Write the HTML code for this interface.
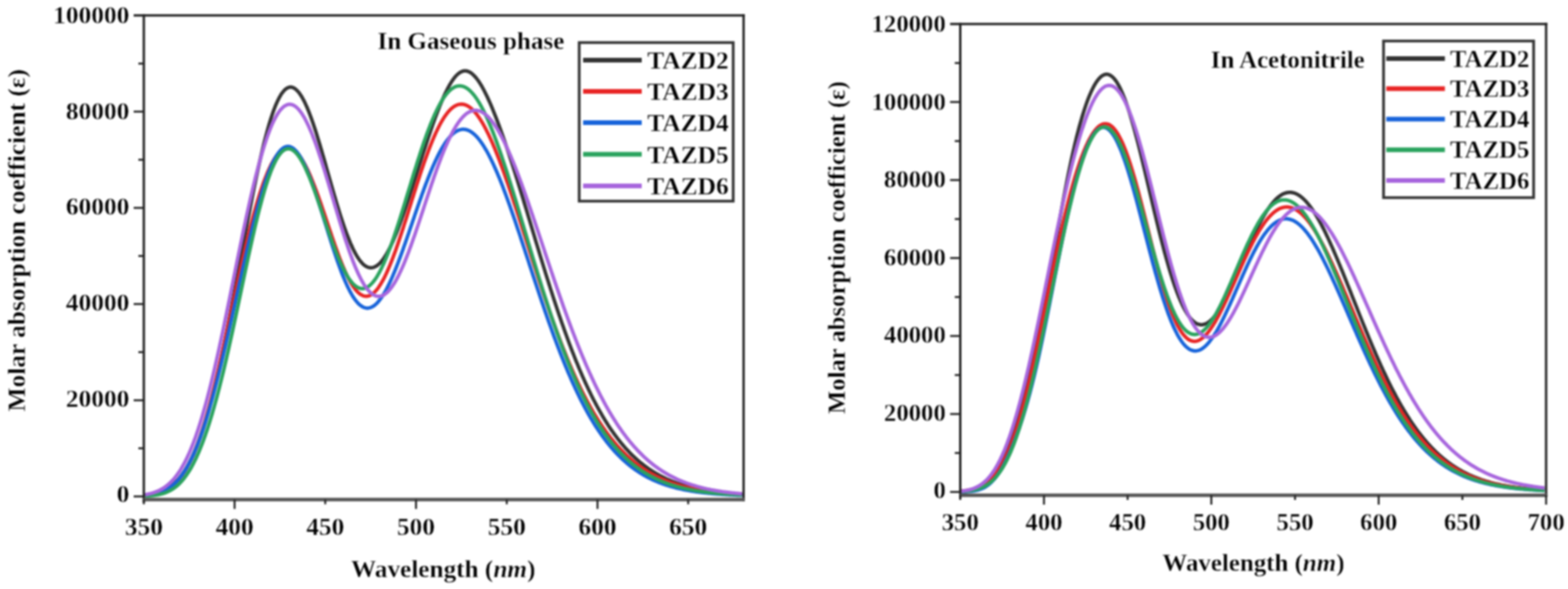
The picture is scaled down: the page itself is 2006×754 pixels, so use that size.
<!DOCTYPE html><html><head><meta charset="utf-8"><title>Molar absorption spectra</title><style>html,body{margin:0;padding:0;background:#fff;width:2006px;height:754px;overflow:hidden}svg{display:block;filter:blur(0.8px)}text{font-family:'Liberation Serif','Times New Roman',serif;font-weight:bold;stroke:#fff;stroke-width:0.4px}</style></head><body>
<svg width="2006" height="754" viewBox="0 0 2006 754">
<rect width="2006" height="754" fill="#fff"/>
<g>
<clipPath id="clipL"><rect x="184.0" y="19.8" width="767.3" height="619.7"/></clipPath>
<g clip-path="url(#clipL)" fill="none" stroke-width="4.5" stroke-linejoin="round">
<path d="M185.5 634.1 L186.5 634.0 L187.5 633.9 L188.5 633.8 L189.5 633.6 L190.5 633.5 L191.5 633.3 L192.5 633.2 L193.5 633.0 L194.5 632.8 L195.5 632.6 L196.5 632.4 L197.5 632.1 L198.5 631.9 L199.5 631.6 L200.5 631.3 L201.5 631.0 L202.5 630.7 L203.5 630.4 L204.5 630.0 L205.5 629.7 L206.5 629.3 L207.5 628.9 L208.5 628.4 L209.5 628.0 L210.5 627.5 L211.5 627.0 L212.5 626.4 L213.5 625.9 L214.5 625.3 L215.5 624.6 L216.5 624.0 L217.5 623.3 L218.5 622.5 L219.5 621.8 L220.5 621.0 L221.5 620.2 L222.5 619.3 L223.5 618.4 L224.5 617.4 L225.5 616.4 L226.5 615.4 L227.5 614.3 L228.5 613.2 L229.5 612.0 L230.5 610.8 L231.5 609.5 L232.5 608.2 L233.5 606.8 L234.5 605.4 L235.5 604.0 L236.5 602.4 L237.5 600.8 L238.5 599.2 L239.5 597.5 L240.5 595.7 L241.5 593.9 L242.5 592.1 L243.5 590.1 L244.5 588.1 L245.5 586.1 L246.5 583.9 L247.5 581.7 L248.5 579.5 L249.5 577.1 L250.5 574.8 L251.5 572.3 L252.5 569.8 L253.5 567.2 L254.5 564.5 L255.5 561.8 L256.5 558.9 L257.5 556.1 L258.5 553.1 L259.5 550.1 L260.5 547.0 L261.5 543.8 L262.5 540.6 L263.5 537.3 L264.5 533.9 L265.5 530.4 L266.5 526.9 L267.5 523.3 L268.5 519.7 L269.5 515.9 L270.5 512.1 L271.5 508.2 L272.5 504.3 L273.5 500.3 L274.5 496.2 L275.5 492.1 L276.5 487.9 L277.5 483.6 L278.5 479.2 L279.5 474.8 L280.5 470.4 L281.5 465.8 L282.5 461.3 L283.5 456.6 L284.5 451.9 L285.5 447.2 L286.5 442.4 L287.5 437.5 L288.5 432.6 L289.5 427.7 L290.5 422.7 L291.5 417.6 L292.5 412.6 L293.5 407.5 L294.5 402.3 L295.5 397.1 L296.5 391.9 L297.5 386.6 L298.5 381.4 L299.5 376.1 L300.5 370.7 L301.5 365.4 L302.5 360.0 L303.5 354.7 L304.5 349.3 L305.5 343.9 L306.5 338.5 L307.5 333.1 L308.5 327.6 L309.5 322.2 L310.5 316.8 L311.5 311.4 L312.5 306.1 L313.5 300.7 L314.5 295.4 L315.5 290.0 L316.5 284.7 L317.5 279.4 L318.5 274.2 L319.5 269.0 L320.5 263.8 L321.5 258.7 L322.5 253.6 L323.5 248.5 L324.5 243.5 L325.5 238.6 L326.5 233.7 L327.5 228.9 L328.5 224.1 L329.5 219.4 L330.5 214.7 L331.5 210.2 L332.5 205.7 L333.5 201.3 L334.5 196.9 L335.5 192.7 L336.5 188.5 L337.5 184.4 L338.5 180.4 L339.5 176.5 L340.5 172.7 L341.5 169.0 L342.5 165.4 L343.5 161.9 L344.5 158.5 L345.5 155.2 L346.5 152.0 L347.5 148.9 L348.5 145.9 L349.5 143.1 L350.5 140.3 L351.5 137.7 L352.5 135.2 L353.5 132.8 L354.5 130.6 L355.5 128.4 L356.5 126.4 L357.5 124.5 L358.5 122.8 L359.5 121.1 L360.5 119.6 L361.5 118.3 L362.5 117.0 L363.5 115.9 L364.5 114.9 L365.5 114.0 L366.5 113.3 L367.5 112.7 L368.5 112.2 L369.5 111.9 L370.5 111.6 L371.5 111.5 L372.5 111.6 L373.5 111.7 L374.5 112.0 L375.5 112.4 L376.5 113.0 L377.5 113.6 L378.5 114.4 L379.5 115.3 L380.5 116.3 L381.5 117.4 L382.5 118.6 L383.5 120.0 L384.5 121.5 L385.5 123.0 L386.5 124.7 L387.5 126.5 L388.5 128.3 L389.5 130.3 L390.5 132.4 L391.5 134.6 L392.5 136.8 L393.5 139.1 L394.5 141.6 L395.5 144.1 L396.5 146.7 L397.5 149.4 L398.5 152.1 L399.5 154.9 L400.5 157.8 L401.5 160.7 L402.5 163.7 L403.5 166.8 L404.5 169.9 L405.5 173.1 L406.5 176.3 L407.5 179.6 L408.5 182.9 L409.5 186.2 L410.5 189.6 L411.5 193.0 L412.5 196.5 L413.5 199.9 L414.5 203.4 L415.5 206.9 L416.5 210.4 L417.5 214.0 L418.5 217.5 L419.5 221.0 L420.5 224.6 L421.5 228.1 L422.5 231.6 L423.5 235.2 L424.5 238.7 L425.5 242.2 L426.5 245.6 L427.5 249.1 L428.5 252.5 L429.5 255.9 L430.5 259.3 L431.5 262.6 L432.5 265.9 L433.5 269.2 L434.5 272.4 L435.5 275.6 L436.5 278.7 L437.5 281.8 L438.5 284.8 L439.5 287.7 L440.5 290.7 L441.5 293.5 L442.5 296.3 L443.5 299.0 L444.5 301.7 L445.5 304.2 L446.5 306.7 L447.5 309.2 L448.5 311.6 L449.5 313.8 L450.5 316.0 L451.5 318.2 L452.5 320.2 L453.5 322.2 L454.5 324.1 L455.5 325.9 L456.5 327.6 L457.5 329.2 L458.5 330.8 L459.5 332.2 L460.5 333.6 L461.5 334.8 L462.5 336.0 L463.5 337.1 L464.5 338.1 L465.5 339.0 L466.5 339.8 L467.5 340.5 L468.5 341.1 L469.5 341.6 L470.5 342.0 L471.5 342.4 L472.5 342.6 L473.5 342.7 L474.5 342.8 L475.5 342.7 L476.5 342.6 L477.5 342.4 L478.5 342.1 L479.5 341.6 L480.5 341.1 L481.5 340.5 L482.5 339.9 L483.5 339.1 L484.5 338.2 L485.5 337.3 L486.5 336.3 L487.5 335.1 L488.5 333.9 L489.5 332.7 L490.5 331.3 L491.5 329.9 L492.5 328.3 L493.5 326.7 L494.5 325.1 L495.5 323.3 L496.5 321.5 L497.5 319.6 L498.5 317.7 L499.5 315.7 L500.5 313.6 L501.5 311.4 L502.5 309.2 L503.5 306.9 L504.5 304.6 L505.5 302.2 L506.5 299.8 L507.5 297.3 L508.5 294.8 L509.5 292.2 L510.5 289.5 L511.5 286.9 L512.5 284.1 L513.5 281.4 L514.5 278.6 L515.5 275.7 L516.5 272.9 L517.5 270.0 L518.5 267.0 L519.5 264.1 L520.5 261.1 L521.5 258.1 L522.5 255.1 L523.5 252.0 L524.5 248.9 L525.5 245.9 L526.5 242.8 L527.5 239.7 L528.5 236.5 L529.5 233.4 L530.5 230.3 L531.5 227.1 L532.5 224.0 L533.5 220.8 L534.5 217.7 L535.5 214.6 L536.5 211.4 L537.5 208.3 L538.5 205.2 L539.5 202.1 L540.5 198.9 L541.5 195.9 L542.5 192.8 L543.5 189.7 L544.5 186.7 L545.5 183.6 L546.5 180.6 L547.5 177.6 L548.5 174.6 L549.5 171.7 L550.5 168.7 L551.5 165.8 L552.5 163.0 L553.5 160.1 L554.5 157.3 L555.5 154.5 L556.5 151.8 L557.5 149.0 L558.5 146.4 L559.5 143.7 L560.5 141.1 L561.5 138.6 L562.5 136.0 L563.5 133.6 L564.5 131.1 L565.5 128.8 L566.5 126.4 L567.5 124.2 L568.5 122.0 L569.5 119.8 L570.5 117.7 L571.5 115.7 L572.5 113.7 L573.5 111.8 L574.5 110.0 L575.5 108.2 L576.5 106.6 L577.5 104.9 L578.5 103.4 L579.5 102.0 L580.5 100.6 L581.5 99.3 L582.5 98.1 L583.5 97.0 L584.5 96.0 L585.5 95.0 L586.5 94.2 L587.5 93.4 L588.5 92.8 L589.5 92.2 L590.5 91.7 L591.5 91.3 L592.5 91.0 L593.5 90.8 L594.5 90.8 L595.5 90.7 L596.5 90.8 L597.5 91.0 L598.5 91.3 L599.5 91.7 L600.5 92.1 L601.5 92.7 L602.5 93.3 L603.5 94.1 L604.5 94.9 L605.5 95.8 L606.5 96.8 L607.5 97.8 L608.5 99.0 L609.5 100.2 L610.5 101.5 L611.5 102.8 L612.5 104.3 L613.5 105.8 L614.5 107.4 L615.5 109.0 L616.5 110.7 L617.5 112.5 L618.5 114.3 L619.5 116.2 L620.5 118.2 L621.5 120.2 L622.5 122.2 L623.5 124.3 L624.5 126.5 L625.5 128.7 L626.5 130.9 L627.5 133.2 L628.5 135.5 L629.5 137.9 L630.5 140.3 L631.5 142.8 L632.5 145.3 L633.5 147.8 L634.5 150.3 L635.5 152.9 L636.5 155.6 L637.5 158.2 L638.5 160.9 L639.5 163.7 L640.5 166.4 L641.5 169.2 L642.5 172.0 L643.5 174.8 L644.5 177.7 L645.5 180.6 L646.5 183.5 L647.5 186.4 L648.5 189.4 L649.5 192.4 L650.5 195.4 L651.5 198.4 L652.5 201.5 L653.5 204.5 L654.5 207.6 L655.5 210.7 L656.5 213.9 L657.5 217.0 L658.5 220.2 L659.5 223.3 L660.5 226.5 L661.5 229.7 L662.5 232.9 L663.5 236.1 L664.5 239.4 L665.5 242.6 L666.5 245.9 L667.5 249.2 L668.5 252.4 L669.5 255.7 L670.5 259.0 L671.5 262.3 L672.5 265.6 L673.5 268.9 L674.5 272.2 L675.5 275.6 L676.5 278.9 L677.5 282.2 L678.5 285.5 L679.5 288.9 L680.5 292.2 L681.5 295.5 L682.5 298.8 L683.5 302.1 L684.5 305.5 L685.5 308.8 L686.5 312.1 L687.5 315.4 L688.5 318.7 L689.5 322.0 L690.5 325.3 L691.5 328.6 L692.5 331.8 L693.5 335.1 L694.5 338.4 L695.5 341.6 L696.5 344.8 L697.5 348.1 L698.5 351.3 L699.5 354.5 L700.5 357.7 L701.5 360.8 L702.5 364.0 L703.5 367.1 L704.5 370.3 L705.5 373.4 L706.5 376.5 L707.5 379.6 L708.5 382.7 L709.5 385.7 L710.5 388.8 L711.5 391.8 L712.5 394.8 L713.5 397.8 L714.5 400.7 L715.5 403.7 L716.5 406.6 L717.5 409.5 L718.5 412.4 L719.5 415.3 L720.5 418.1 L721.5 421.0 L722.5 423.8 L723.5 426.6 L724.5 429.3 L725.5 432.1 L726.5 434.8 L727.5 437.5 L728.5 440.2 L729.5 442.8 L730.5 445.5 L731.5 448.1 L732.5 450.7 L733.5 453.2 L734.5 455.8 L735.5 458.3 L736.5 460.8 L737.5 463.3 L738.5 465.7 L739.5 468.2 L740.5 470.6 L741.5 473.0 L742.5 475.3 L743.5 477.7 L744.5 480.0 L745.5 482.3 L746.5 484.5 L747.5 486.8 L748.5 489.0 L749.5 491.2 L750.5 493.4 L751.5 495.5 L752.5 497.6 L753.5 499.7 L754.5 501.8 L755.5 503.9 L756.5 505.9 L757.5 507.9 L758.5 509.9 L759.5 511.9 L760.5 513.8 L761.5 515.7 L762.5 517.6 L763.5 519.5 L764.5 521.3 L765.5 523.2 L766.5 525.0 L767.5 526.7 L768.5 528.5 L769.5 530.2 L770.5 532.0 L771.5 533.7 L772.5 535.3 L773.5 537.0 L774.5 538.6 L775.5 540.2 L776.5 541.8 L777.5 543.4 L778.5 544.9 L779.5 546.4 L780.5 547.9 L781.5 549.4 L782.5 550.9 L783.5 552.3 L784.5 553.7 L785.5 555.1 L786.5 556.5 L787.5 557.9 L788.5 559.2 L789.5 560.5 L790.5 561.9 L791.5 563.1 L792.5 564.4 L793.5 565.7 L794.5 566.9 L795.5 568.1 L796.5 569.3 L797.5 570.5 L798.5 571.6 L799.5 572.8 L800.5 573.9 L801.5 575.0 L802.5 576.1 L803.5 577.2 L804.5 578.2 L805.5 579.3 L806.5 580.3 L807.5 581.3 L808.5 582.3 L809.5 583.3 L810.5 584.2 L811.5 585.2 L812.5 586.1 L813.5 587.0 L814.5 587.9 L815.5 588.8 L816.5 589.7 L817.5 590.6 L818.5 591.4 L819.5 592.2 L820.5 593.0 L821.5 593.8 L822.5 594.6 L823.5 595.4 L824.5 596.2 L825.5 596.9 L826.5 597.7 L827.5 598.4 L828.5 599.1 L829.5 599.8 L830.5 600.5 L831.5 601.2 L832.5 601.8 L833.5 602.5 L834.5 603.1 L835.5 603.8 L836.5 604.4 L837.5 605.0 L838.5 605.6 L839.5 606.2 L840.5 606.8 L841.5 607.3 L842.5 607.9 L843.5 608.4 L844.5 609.0 L845.5 609.5 L846.5 610.0 L847.5 610.5 L848.5 611.0 L849.5 611.5 L850.5 612.0 L851.5 612.5 L852.5 613.0 L853.5 613.4 L854.5 613.9 L855.5 614.3 L856.5 614.7 L857.5 615.2 L858.5 615.6 L859.5 616.0 L860.5 616.4 L861.5 616.8 L862.5 617.2 L863.5 617.5 L864.5 617.9 L865.5 618.3 L866.5 618.6 L867.5 619.0 L868.5 619.3 L869.5 619.7 L870.5 620.0 L871.5 620.3 L872.5 620.6 L873.5 620.9 L874.5 621.2 L875.5 621.5 L876.5 621.8 L877.5 622.1 L878.5 622.4 L879.5 622.7 L880.5 623.0 L881.5 623.2 L882.5 623.5 L883.5 623.7 L884.5 624.0 L885.5 624.2 L886.5 624.5 L887.5 624.7 L888.5 624.9 L889.5 625.2 L890.5 625.4 L891.5 625.6 L892.5 625.8 L893.5 626.0 L894.5 626.2 L895.5 626.4 L896.5 626.6 L897.5 626.8 L898.5 627.0 L899.5 627.2 L900.5 627.4 L901.5 627.6 L902.5 627.7 L903.5 627.9 L904.5 628.1 L905.5 628.2 L906.5 628.4 L907.5 628.6 L908.5 628.7 L909.5 628.9 L910.5 629.0 L911.5 629.1 L912.5 629.3 L913.5 629.4 L914.5 629.6 L915.5 629.7 L916.5 629.8 L917.5 629.9 L918.5 630.1 L919.5 630.2 L920.5 630.3 L921.5 630.4 L922.5 630.5 L923.5 630.7 L924.5 630.8 L925.5 630.9 L926.5 631.0 L927.5 631.1 L928.5 631.2 L929.5 631.3 L930.5 631.4 L931.5 631.5 L932.5 631.6 L933.5 631.6 L934.5 631.7 L935.5 631.8 L936.5 631.9 L937.5 632.0 L938.5 632.1 L939.5 632.1 L940.5 632.2 L941.5 632.3 L942.5 632.4 L943.5 632.4 L944.5 632.5 L945.5 632.6 L946.5 632.6 L947.5 632.7 L948.5 632.8 L949.5 632.8" stroke="#333333"/>
<path d="M185.5 634.4 L186.5 634.3 L187.5 634.2 L188.5 634.1 L189.5 634.0 L190.5 633.8 L191.5 633.7 L192.5 633.6 L193.5 633.4 L194.5 633.2 L195.5 633.0 L196.5 632.8 L197.5 632.6 L198.5 632.4 L199.5 632.1 L200.5 631.9 L201.5 631.6 L202.5 631.3 L203.5 631.0 L204.5 630.7 L205.5 630.3 L206.5 629.9 L207.5 629.5 L208.5 629.1 L209.5 628.7 L210.5 628.2 L211.5 627.7 L212.5 627.2 L213.5 626.6 L214.5 626.0 L215.5 625.4 L216.5 624.8 L217.5 624.1 L218.5 623.3 L219.5 622.6 L220.5 621.8 L221.5 620.9 L222.5 620.1 L223.5 619.2 L224.5 618.2 L225.5 617.2 L226.5 616.1 L227.5 615.0 L228.5 613.9 L229.5 612.7 L230.5 611.4 L231.5 610.1 L232.5 608.8 L233.5 607.4 L234.5 605.9 L235.5 604.4 L236.5 602.8 L237.5 601.1 L238.5 599.4 L239.5 597.7 L240.5 595.8 L241.5 593.9 L242.5 592.0 L243.5 590.0 L244.5 587.9 L245.5 585.7 L246.5 583.5 L247.5 581.2 L248.5 578.9 L249.5 576.4 L250.5 573.9 L251.5 571.4 L252.5 568.8 L253.5 566.0 L254.5 563.3 L255.5 560.4 L256.5 557.5 L257.5 554.5 L258.5 551.5 L259.5 548.4 L260.5 545.2 L261.5 541.9 L262.5 538.6 L263.5 535.2 L264.5 531.7 L265.5 528.2 L266.5 524.6 L267.5 521.0 L268.5 517.3 L269.5 513.5 L270.5 509.7 L271.5 505.8 L272.5 501.8 L273.5 497.8 L274.5 493.8 L275.5 489.7 L276.5 485.5 L277.5 481.3 L278.5 477.1 L279.5 472.8 L280.5 468.4 L281.5 464.1 L282.5 459.7 L283.5 455.2 L284.5 450.7 L285.5 446.2 L286.5 441.7 L287.5 437.2 L288.5 432.6 L289.5 428.0 L290.5 423.4 L291.5 418.7 L292.5 414.1 L293.5 409.5 L294.5 404.8 L295.5 400.1 L296.5 395.5 L297.5 390.8 L298.5 386.2 L299.5 381.5 L300.5 376.9 L301.5 372.3 L302.5 367.6 L303.5 363.0 L304.5 358.5 L305.5 353.9 L306.5 349.4 L307.5 344.9 L308.5 340.4 L309.5 336.0 L310.5 331.6 L311.5 327.2 L312.5 322.9 L313.5 318.6 L314.5 314.3 L315.5 310.1 L316.5 306.0 L317.5 301.9 L318.5 297.8 L319.5 293.8 L320.5 289.9 L321.5 286.0 L322.5 282.2 L323.5 278.4 L324.5 274.7 L325.5 271.1 L326.5 267.5 L327.5 264.0 L328.5 260.5 L329.5 257.2 L330.5 253.9 L331.5 250.6 L332.5 247.5 L333.5 244.4 L334.5 241.4 L335.5 238.5 L336.5 235.6 L337.5 232.8 L338.5 230.1 L339.5 227.5 L340.5 225.0 L341.5 222.5 L342.5 220.2 L343.5 217.9 L344.5 215.7 L345.5 213.6 L346.5 211.6 L347.5 209.6 L348.5 207.8 L349.5 206.0 L350.5 204.3 L351.5 202.8 L352.5 201.3 L353.5 199.9 L354.5 198.5 L355.5 197.3 L356.5 196.2 L357.5 195.1 L358.5 194.2 L359.5 193.3 L360.5 192.6 L361.5 191.9 L362.5 191.3 L363.5 190.8 L364.5 190.4 L365.5 190.1 L366.5 189.9 L367.5 189.8 L368.5 189.8 L369.5 189.8 L370.5 190.0 L371.5 190.2 L372.5 190.6 L373.5 191.0 L374.5 191.5 L375.5 192.1 L376.5 192.8 L377.5 193.6 L378.5 194.5 L379.5 195.4 L380.5 196.5 L381.5 197.6 L382.5 198.8 L383.5 200.1 L384.5 201.5 L385.5 202.9 L386.5 204.5 L387.5 206.1 L388.5 207.8 L389.5 209.6 L390.5 211.4 L391.5 213.3 L392.5 215.3 L393.5 217.3 L394.5 219.5 L395.5 221.6 L396.5 223.9 L397.5 226.2 L398.5 228.6 L399.5 231.0 L400.5 233.5 L401.5 236.0 L402.5 238.6 L403.5 241.2 L404.5 243.8 L405.5 246.5 L406.5 249.3 L407.5 252.1 L408.5 254.9 L409.5 257.7 L410.5 260.6 L411.5 263.5 L412.5 266.4 L413.5 269.4 L414.5 272.3 L415.5 275.3 L416.5 278.3 L417.5 281.2 L418.5 284.2 L419.5 287.2 L420.5 290.2 L421.5 293.2 L422.5 296.2 L423.5 299.1 L424.5 302.1 L425.5 305.0 L426.5 307.9 L427.5 310.8 L428.5 313.7 L429.5 316.5 L430.5 319.3 L431.5 322.1 L432.5 324.8 L433.5 327.5 L434.5 330.2 L435.5 332.8 L436.5 335.3 L437.5 337.8 L438.5 340.3 L439.5 342.7 L440.5 345.0 L441.5 347.3 L442.5 349.5 L443.5 351.6 L444.5 353.7 L445.5 355.7 L446.5 357.6 L447.5 359.5 L448.5 361.3 L449.5 363.0 L450.5 364.6 L451.5 366.2 L452.5 367.7 L453.5 369.0 L454.5 370.4 L455.5 371.6 L456.5 372.7 L457.5 373.8 L458.5 374.7 L459.5 375.6 L460.5 376.4 L461.5 377.0 L462.5 377.6 L463.5 378.1 L464.5 378.6 L465.5 378.9 L466.5 379.1 L467.5 379.2 L468.5 379.3 L469.5 379.2 L470.5 379.1 L471.5 378.8 L472.5 378.5 L473.5 378.1 L474.5 377.6 L475.5 377.0 L476.5 376.3 L477.5 375.5 L478.5 374.6 L479.5 373.7 L480.5 372.6 L481.5 371.5 L482.5 370.3 L483.5 369.0 L484.5 367.6 L485.5 366.1 L486.5 364.6 L487.5 362.9 L488.5 361.2 L489.5 359.5 L490.5 357.6 L491.5 355.7 L492.5 353.7 L493.5 351.6 L494.5 349.5 L495.5 347.3 L496.5 345.0 L497.5 342.7 L498.5 340.3 L499.5 337.9 L500.5 335.4 L501.5 332.9 L502.5 330.3 L503.5 327.6 L504.5 324.9 L505.5 322.2 L506.5 319.4 L507.5 316.5 L508.5 313.7 L509.5 310.8 L510.5 307.8 L511.5 304.8 L512.5 301.8 L513.5 298.8 L514.5 295.8 L515.5 292.7 L516.5 289.6 L517.5 286.4 L518.5 283.3 L519.5 280.2 L520.5 277.0 L521.5 273.8 L522.5 270.6 L523.5 267.4 L524.5 264.3 L525.5 261.1 L526.5 257.9 L527.5 254.7 L528.5 251.5 L529.5 248.3 L530.5 245.1 L531.5 242.0 L532.5 238.9 L533.5 235.7 L534.5 232.6 L535.5 229.5 L536.5 226.5 L537.5 223.4 L538.5 220.4 L539.5 217.4 L540.5 214.5 L541.5 211.5 L542.5 208.6 L543.5 205.8 L544.5 202.9 L545.5 200.2 L546.5 197.4 L547.5 194.7 L548.5 192.0 L549.5 189.4 L550.5 186.9 L551.5 184.3 L552.5 181.9 L553.5 179.4 L554.5 177.1 L555.5 174.7 L556.5 172.5 L557.5 170.2 L558.5 168.1 L559.5 166.0 L560.5 164.0 L561.5 162.0 L562.5 160.0 L563.5 158.2 L564.5 156.4 L565.5 154.7 L566.5 153.0 L567.5 151.4 L568.5 149.8 L569.5 148.4 L570.5 147.0 L571.5 145.6 L572.5 144.3 L573.5 143.1 L574.5 142.0 L575.5 140.9 L576.5 139.9 L577.5 139.0 L578.5 138.1 L579.5 137.4 L580.5 136.6 L581.5 136.0 L582.5 135.4 L583.5 134.9 L584.5 134.5 L585.5 134.1 L586.5 133.8 L587.5 133.6 L588.5 133.4 L589.5 133.4 L590.5 133.3 L591.5 133.4 L592.5 133.5 L593.5 133.7 L594.5 134.0 L595.5 134.3 L596.5 134.7 L597.5 135.2 L598.5 135.7 L599.5 136.3 L600.5 137.0 L601.5 137.7 L602.5 138.5 L603.5 139.4 L604.5 140.3 L605.5 141.3 L606.5 142.4 L607.5 143.5 L608.5 144.7 L609.5 145.9 L610.5 147.2 L611.5 148.6 L612.5 150.0 L613.5 151.5 L614.5 153.0 L615.5 154.6 L616.5 156.2 L617.5 157.9 L618.5 159.7 L619.5 161.5 L620.5 163.3 L621.5 165.2 L622.5 167.2 L623.5 169.2 L624.5 171.2 L625.5 173.3 L626.5 175.5 L627.5 177.6 L628.5 179.9 L629.5 182.1 L630.5 184.4 L631.5 186.8 L632.5 189.2 L633.5 191.6 L634.5 194.1 L635.5 196.6 L636.5 199.1 L637.5 201.7 L638.5 204.3 L639.5 206.9 L640.5 209.6 L641.5 212.3 L642.5 215.0 L643.5 217.8 L644.5 220.5 L645.5 223.3 L646.5 226.2 L647.5 229.0 L648.5 231.9 L649.5 234.8 L650.5 237.7 L651.5 240.7 L652.5 243.6 L653.5 246.6 L654.5 249.6 L655.5 252.6 L656.5 255.6 L657.5 258.7 L658.5 261.7 L659.5 264.8 L660.5 267.9 L661.5 270.9 L662.5 274.0 L663.5 277.1 L664.5 280.2 L665.5 283.4 L666.5 286.5 L667.5 289.6 L668.5 292.7 L669.5 295.9 L670.5 299.0 L671.5 302.2 L672.5 305.3 L673.5 308.4 L674.5 311.6 L675.5 314.7 L676.5 317.9 L677.5 321.0 L678.5 324.1 L679.5 327.3 L680.5 330.4 L681.5 333.5 L682.5 336.6 L683.5 339.7 L684.5 342.8 L685.5 345.9 L686.5 349.0 L687.5 352.1 L688.5 355.2 L689.5 358.2 L690.5 361.3 L691.5 364.3 L692.5 367.3 L693.5 370.3 L694.5 373.3 L695.5 376.3 L696.5 379.3 L697.5 382.3 L698.5 385.2 L699.5 388.1 L700.5 391.0 L701.5 393.9 L702.5 396.8 L703.5 399.7 L704.5 402.6 L705.5 405.4 L706.5 408.2 L707.5 411.0 L708.5 413.8 L709.5 416.6 L710.5 419.3 L711.5 422.0 L712.5 424.7 L713.5 427.4 L714.5 430.1 L715.5 432.7 L716.5 435.4 L717.5 438.0 L718.5 440.6 L719.5 443.1 L720.5 445.7 L721.5 448.2 L722.5 450.7 L723.5 453.2 L724.5 455.7 L725.5 458.1 L726.5 460.5 L727.5 462.9 L728.5 465.3 L729.5 467.7 L730.5 470.0 L731.5 472.3 L732.5 474.6 L733.5 476.9 L734.5 479.2 L735.5 481.4 L736.5 483.6 L737.5 485.8 L738.5 487.9 L739.5 490.1 L740.5 492.2 L741.5 494.3 L742.5 496.4 L743.5 498.4 L744.5 500.4 L745.5 502.4 L746.5 504.4 L747.5 506.4 L748.5 508.3 L749.5 510.3 L750.5 512.2 L751.5 514.0 L752.5 515.9 L753.5 517.7 L754.5 519.5 L755.5 521.3 L756.5 523.1 L757.5 524.8 L758.5 526.6 L759.5 528.3 L760.5 530.0 L761.5 531.6 L762.5 533.3 L763.5 534.9 L764.5 536.5 L765.5 538.1 L766.5 539.7 L767.5 541.2 L768.5 542.7 L769.5 544.2 L770.5 545.7 L771.5 547.2 L772.5 548.6 L773.5 550.0 L774.5 551.5 L775.5 552.8 L776.5 554.2 L777.5 555.6 L778.5 556.9 L779.5 558.2 L780.5 559.5 L781.5 560.8 L782.5 562.1 L783.5 563.3 L784.5 564.5 L785.5 565.7 L786.5 566.9 L787.5 568.1 L788.5 569.2 L789.5 570.4 L790.5 571.5 L791.5 572.6 L792.5 573.7 L793.5 574.8 L794.5 575.8 L795.5 576.9 L796.5 577.9 L797.5 578.9 L798.5 579.9 L799.5 580.9 L800.5 581.9 L801.5 582.8 L802.5 583.8 L803.5 584.7 L804.5 585.6 L805.5 586.5 L806.5 587.4 L807.5 588.2 L808.5 589.1 L809.5 589.9 L810.5 590.8 L811.5 591.6 L812.5 592.4 L813.5 593.2 L814.5 593.9 L815.5 594.7 L816.5 595.5 L817.5 596.2 L818.5 596.9 L819.5 597.6 L820.5 598.3 L821.5 599.0 L822.5 599.7 L823.5 600.4 L824.5 601.0 L825.5 601.7 L826.5 602.3 L827.5 602.9 L828.5 603.6 L829.5 604.2 L830.5 604.8 L831.5 605.3 L832.5 605.9 L833.5 606.5 L834.5 607.0 L835.5 607.6 L836.5 608.1 L837.5 608.6 L838.5 609.1 L839.5 609.7 L840.5 610.2 L841.5 610.6 L842.5 611.1 L843.5 611.6 L844.5 612.1 L845.5 612.5 L846.5 613.0 L847.5 613.4 L848.5 613.8 L849.5 614.3 L850.5 614.7 L851.5 615.1 L852.5 615.5 L853.5 615.9 L854.5 616.3 L855.5 616.7 L856.5 617.0 L857.5 617.4 L858.5 617.8 L859.5 618.1 L860.5 618.5 L861.5 618.8 L862.5 619.1 L863.5 619.5 L864.5 619.8 L865.5 620.1 L866.5 620.4 L867.5 620.7 L868.5 621.0 L869.5 621.3 L870.5 621.6 L871.5 621.9 L872.5 622.2 L873.5 622.4 L874.5 622.7 L875.5 623.0 L876.5 623.2 L877.5 623.5 L878.5 623.7 L879.5 624.0 L880.5 624.2 L881.5 624.4 L882.5 624.7 L883.5 624.9 L884.5 625.1 L885.5 625.3 L886.5 625.5 L887.5 625.7 L888.5 625.9 L889.5 626.1 L890.5 626.3 L891.5 626.5 L892.5 626.7 L893.5 626.9 L894.5 627.1 L895.5 627.3 L896.5 627.4 L897.5 627.6 L898.5 627.8 L899.5 627.9 L900.5 628.1 L901.5 628.3 L902.5 628.4 L903.5 628.6 L904.5 628.7 L905.5 628.8 L906.5 629.0 L907.5 629.1 L908.5 629.3 L909.5 629.4 L910.5 629.5 L911.5 629.7 L912.5 629.8 L913.5 629.9 L914.5 630.0 L915.5 630.1 L916.5 630.3 L917.5 630.4 L918.5 630.5 L919.5 630.6 L920.5 630.7 L921.5 630.8 L922.5 630.9 L923.5 631.0 L924.5 631.1 L925.5 631.2 L926.5 631.3 L927.5 631.4 L928.5 631.5 L929.5 631.6 L930.5 631.6 L931.5 631.7 L932.5 631.8 L933.5 631.9 L934.5 632.0 L935.5 632.1 L936.5 632.1 L937.5 632.2 L938.5 632.3 L939.5 632.3 L940.5 632.4 L941.5 632.5 L942.5 632.5 L943.5 632.6 L944.5 632.7 L945.5 632.7 L946.5 632.8 L947.5 632.9 L948.5 632.9 L949.5 633.0" stroke="#E82424"/>
<path d="M185.5 634.5 L186.5 634.4 L187.5 634.3 L188.5 634.1 L189.5 634.0 L190.5 633.9 L191.5 633.8 L192.5 633.6 L193.5 633.4 L194.5 633.3 L195.5 633.1 L196.5 632.9 L197.5 632.6 L198.5 632.4 L199.5 632.2 L200.5 631.9 L201.5 631.6 L202.5 631.3 L203.5 631.0 L204.5 630.7 L205.5 630.3 L206.5 629.9 L207.5 629.5 L208.5 629.1 L209.5 628.6 L210.5 628.1 L211.5 627.6 L212.5 627.1 L213.5 626.5 L214.5 625.9 L215.5 625.3 L216.5 624.6 L217.5 623.9 L218.5 623.2 L219.5 622.4 L220.5 621.6 L221.5 620.7 L222.5 619.9 L223.5 618.9 L224.5 617.9 L225.5 616.9 L226.5 615.9 L227.5 614.8 L228.5 613.6 L229.5 612.4 L230.5 611.2 L231.5 609.9 L232.5 608.5 L233.5 607.1 L234.5 605.6 L235.5 604.1 L236.5 602.6 L237.5 600.9 L238.5 599.3 L239.5 597.5 L240.5 595.7 L241.5 593.9 L242.5 592.0 L243.5 590.0 L244.5 588.0 L245.5 585.9 L246.5 583.7 L247.5 581.5 L248.5 579.3 L249.5 576.9 L250.5 574.5 L251.5 572.1 L252.5 569.6 L253.5 567.0 L254.5 564.3 L255.5 561.6 L256.5 558.9 L257.5 556.0 L258.5 553.2 L259.5 550.2 L260.5 547.2 L261.5 544.1 L262.5 541.0 L263.5 537.8 L264.5 534.6 L265.5 531.3 L266.5 527.9 L267.5 524.5 L268.5 521.0 L269.5 517.5 L270.5 513.9 L271.5 510.3 L272.5 506.6 L273.5 502.9 L274.5 499.1 L275.5 495.3 L276.5 491.4 L277.5 487.5 L278.5 483.6 L279.5 479.6 L280.5 475.5 L281.5 471.5 L282.5 467.4 L283.5 463.2 L284.5 459.0 L285.5 454.8 L286.5 450.6 L287.5 446.3 L288.5 442.0 L289.5 437.6 L290.5 433.3 L291.5 428.9 L292.5 424.5 L293.5 420.1 L294.5 415.7 L295.5 411.2 L296.5 406.8 L297.5 402.3 L298.5 397.8 L299.5 393.3 L300.5 388.8 L301.5 384.3 L302.5 379.8 L303.5 375.3 L304.5 370.8 L305.5 366.3 L306.5 361.8 L307.5 357.3 L308.5 352.9 L309.5 348.4 L310.5 344.0 L311.5 339.6 L312.5 335.2 L313.5 330.8 L314.5 326.4 L315.5 322.1 L316.5 317.8 L317.5 313.6 L318.5 309.3 L319.5 305.1 L320.5 301.0 L321.5 296.9 L322.5 292.8 L323.5 288.7 L324.5 284.8 L325.5 280.8 L326.5 277.0 L327.5 273.1 L328.5 269.4 L329.5 265.6 L330.5 262.0 L331.5 258.4 L332.5 254.9 L333.5 251.4 L334.5 248.1 L335.5 244.7 L336.5 241.5 L337.5 238.4 L338.5 235.3 L339.5 232.3 L340.5 229.4 L341.5 226.5 L342.5 223.8 L343.5 221.1 L344.5 218.6 L345.5 216.1 L346.5 213.7 L347.5 211.4 L348.5 209.2 L349.5 207.1 L350.5 205.1 L351.5 203.2 L352.5 201.5 L353.5 199.8 L354.5 198.2 L355.5 196.7 L356.5 195.3 L357.5 194.1 L358.5 192.9 L359.5 191.9 L360.5 191.0 L361.5 190.1 L362.5 189.4 L363.5 188.8 L364.5 188.3 L365.5 188.0 L366.5 187.7 L367.5 187.5 L368.5 187.5 L369.5 187.5 L370.5 187.7 L371.5 188.0 L372.5 188.4 L373.5 188.9 L374.5 189.5 L375.5 190.2 L376.5 191.0 L377.5 192.0 L378.5 193.0 L379.5 194.1 L380.5 195.4 L381.5 196.7 L382.5 198.1 L383.5 199.6 L384.5 201.2 L385.5 202.9 L386.5 204.7 L387.5 206.6 L388.5 208.6 L389.5 210.6 L390.5 212.8 L391.5 215.0 L392.5 217.2 L393.5 219.6 L394.5 222.0 L395.5 224.5 L396.5 227.1 L397.5 229.7 L398.5 232.4 L399.5 235.1 L400.5 237.9 L401.5 240.7 L402.5 243.6 L403.5 246.5 L404.5 249.5 L405.5 252.5 L406.5 255.6 L407.5 258.6 L408.5 261.7 L409.5 264.9 L410.5 268.0 L411.5 271.2 L412.5 274.4 L413.5 277.6 L414.5 280.8 L415.5 284.0 L416.5 287.2 L417.5 290.4 L418.5 293.6 L419.5 296.8 L420.5 300.0 L421.5 303.2 L422.5 306.4 L423.5 309.5 L424.5 312.6 L425.5 315.7 L426.5 318.8 L427.5 321.9 L428.5 324.9 L429.5 327.9 L430.5 330.8 L431.5 333.7 L432.5 336.5 L433.5 339.3 L434.5 342.1 L435.5 344.8 L436.5 347.5 L437.5 350.1 L438.5 352.6 L439.5 355.1 L440.5 357.5 L441.5 359.9 L442.5 362.1 L443.5 364.4 L444.5 366.5 L445.5 368.6 L446.5 370.6 L447.5 372.6 L448.5 374.4 L449.5 376.2 L450.5 377.9 L451.5 379.5 L452.5 381.1 L453.5 382.5 L454.5 383.9 L455.5 385.2 L456.5 386.4 L457.5 387.6 L458.5 388.6 L459.5 389.6 L460.5 390.5 L461.5 391.2 L462.5 391.9 L463.5 392.6 L464.5 393.1 L465.5 393.5 L466.5 393.9 L467.5 394.1 L468.5 394.3 L469.5 394.4 L470.5 394.4 L471.5 394.3 L472.5 394.1 L473.5 393.9 L474.5 393.5 L475.5 393.1 L476.5 392.6 L477.5 392.0 L478.5 391.3 L479.5 390.6 L480.5 389.7 L481.5 388.8 L482.5 387.8 L483.5 386.7 L484.5 385.5 L485.5 384.3 L486.5 383.0 L487.5 381.6 L488.5 380.2 L489.5 378.6 L490.5 377.1 L491.5 375.4 L492.5 373.7 L493.5 371.9 L494.5 370.0 L495.5 368.1 L496.5 366.1 L497.5 364.1 L498.5 362.0 L499.5 359.8 L500.5 357.6 L501.5 355.4 L502.5 353.1 L503.5 350.7 L504.5 348.3 L505.5 345.9 L506.5 343.4 L507.5 340.9 L508.5 338.3 L509.5 335.7 L510.5 333.0 L511.5 330.4 L512.5 327.7 L513.5 324.9 L514.5 322.2 L515.5 319.4 L516.5 316.6 L517.5 313.8 L518.5 310.9 L519.5 308.0 L520.5 305.2 L521.5 302.3 L522.5 299.4 L523.5 296.4 L524.5 293.5 L525.5 290.6 L526.5 287.7 L527.5 284.7 L528.5 281.8 L529.5 278.9 L530.5 275.9 L531.5 273.0 L532.5 270.1 L533.5 267.2 L534.5 264.3 L535.5 261.4 L536.5 258.6 L537.5 255.7 L538.5 252.9 L539.5 250.1 L540.5 247.3 L541.5 244.6 L542.5 241.8 L543.5 239.1 L544.5 236.4 L545.5 233.8 L546.5 231.2 L547.5 228.6 L548.5 226.1 L549.5 223.6 L550.5 221.1 L551.5 218.7 L552.5 216.3 L553.5 213.9 L554.5 211.6 L555.5 209.4 L556.5 207.1 L557.5 205.0 L558.5 202.9 L559.5 200.8 L560.5 198.8 L561.5 196.8 L562.5 194.9 L563.5 193.0 L564.5 191.2 L565.5 189.5 L566.5 187.8 L567.5 186.2 L568.5 184.6 L569.5 183.1 L570.5 181.6 L571.5 180.2 L572.5 178.9 L573.5 177.6 L574.5 176.4 L575.5 175.2 L576.5 174.1 L577.5 173.1 L578.5 172.1 L579.5 171.3 L580.5 170.4 L581.5 169.7 L582.5 169.0 L583.5 168.3 L584.5 167.7 L585.5 167.2 L586.5 166.8 L587.5 166.4 L588.5 166.1 L589.5 165.9 L590.5 165.7 L591.5 165.6 L592.5 165.6 L593.5 165.6 L594.5 165.7 L595.5 165.8 L596.5 166.0 L597.5 166.3 L598.5 166.7 L599.5 167.1 L600.5 167.6 L601.5 168.1 L602.5 168.7 L603.5 169.4 L604.5 170.1 L605.5 170.9 L606.5 171.7 L607.5 172.7 L608.5 173.6 L609.5 174.7 L610.5 175.7 L611.5 176.9 L612.5 178.1 L613.5 179.4 L614.5 180.7 L615.5 182.1 L616.5 183.5 L617.5 185.0 L618.5 186.5 L619.5 188.1 L620.5 189.8 L621.5 191.5 L622.5 193.2 L623.5 195.0 L624.5 196.8 L625.5 198.7 L626.5 200.7 L627.5 202.6 L628.5 204.7 L629.5 206.7 L630.5 208.9 L631.5 211.0 L632.5 213.2 L633.5 215.5 L634.5 217.7 L635.5 220.0 L636.5 222.4 L637.5 224.8 L638.5 227.2 L639.5 229.7 L640.5 232.2 L641.5 234.7 L642.5 237.2 L643.5 239.8 L644.5 242.5 L645.5 245.1 L646.5 247.8 L647.5 250.5 L648.5 253.2 L649.5 255.9 L650.5 258.7 L651.5 261.5 L652.5 264.3 L653.5 267.2 L654.5 270.0 L655.5 272.9 L656.5 275.8 L657.5 278.7 L658.5 281.6 L659.5 284.5 L660.5 287.5 L661.5 290.5 L662.5 293.4 L663.5 296.4 L664.5 299.4 L665.5 302.4 L666.5 305.5 L667.5 308.5 L668.5 311.5 L669.5 314.6 L670.5 317.6 L671.5 320.6 L672.5 323.7 L673.5 326.7 L674.5 329.8 L675.5 332.9 L676.5 335.9 L677.5 339.0 L678.5 342.0 L679.5 345.1 L680.5 348.1 L681.5 351.2 L682.5 354.2 L683.5 357.2 L684.5 360.3 L685.5 363.3 L686.5 366.3 L687.5 369.3 L688.5 372.3 L689.5 375.3 L690.5 378.3 L691.5 381.3 L692.5 384.2 L693.5 387.2 L694.5 390.1 L695.5 393.1 L696.5 396.0 L697.5 398.9 L698.5 401.8 L699.5 404.7 L700.5 407.5 L701.5 410.4 L702.5 413.2 L703.5 416.0 L704.5 418.8 L705.5 421.6 L706.5 424.4 L707.5 427.1 L708.5 429.9 L709.5 432.6 L710.5 435.3 L711.5 438.0 L712.5 440.6 L713.5 443.3 L714.5 445.9 L715.5 448.5 L716.5 451.1 L717.5 453.6 L718.5 456.2 L719.5 458.7 L720.5 461.2 L721.5 463.7 L722.5 466.1 L723.5 468.6 L724.5 471.0 L725.5 473.4 L726.5 475.8 L727.5 478.1 L728.5 480.4 L729.5 482.7 L730.5 485.0 L731.5 487.3 L732.5 489.5 L733.5 491.7 L734.5 493.9 L735.5 496.1 L736.5 498.3 L737.5 500.4 L738.5 502.5 L739.5 504.6 L740.5 506.6 L741.5 508.7 L742.5 510.7 L743.5 512.7 L744.5 514.6 L745.5 516.6 L746.5 518.5 L747.5 520.4 L748.5 522.3 L749.5 524.1 L750.5 526.0 L751.5 527.8 L752.5 529.6 L753.5 531.3 L754.5 533.1 L755.5 534.8 L756.5 536.5 L757.5 538.2 L758.5 539.9 L759.5 541.5 L760.5 543.1 L761.5 544.7 L762.5 546.3 L763.5 547.8 L764.5 549.3 L765.5 550.9 L766.5 552.3 L767.5 553.8 L768.5 555.3 L769.5 556.7 L770.5 558.1 L771.5 559.5 L772.5 560.8 L773.5 562.2 L774.5 563.5 L775.5 564.8 L776.5 566.1 L777.5 567.4 L778.5 568.6 L779.5 569.9 L780.5 571.1 L781.5 572.3 L782.5 573.4 L783.5 574.6 L784.5 575.7 L785.5 576.9 L786.5 578.0 L787.5 579.1 L788.5 580.1 L789.5 581.2 L790.5 582.2 L791.5 583.2 L792.5 584.2 L793.5 585.2 L794.5 586.2 L795.5 587.2 L796.5 588.1 L797.5 589.0 L798.5 589.9 L799.5 590.8 L800.5 591.7 L801.5 592.6 L802.5 593.4 L803.5 594.2 L804.5 595.1 L805.5 595.9 L806.5 596.7 L807.5 597.4 L808.5 598.2 L809.5 599.0 L810.5 599.7 L811.5 600.4 L812.5 601.1 L813.5 601.8 L814.5 602.5 L815.5 603.2 L816.5 603.9 L817.5 604.5 L818.5 605.2 L819.5 605.8 L820.5 606.4 L821.5 607.0 L822.5 607.6 L823.5 608.2 L824.5 608.8 L825.5 609.3 L826.5 609.9 L827.5 610.4 L828.5 610.9 L829.5 611.5 L830.5 612.0 L831.5 612.5 L832.5 613.0 L833.5 613.4 L834.5 613.9 L835.5 614.4 L836.5 614.8 L837.5 615.3 L838.5 615.7 L839.5 616.1 L840.5 616.6 L841.5 617.0 L842.5 617.4 L843.5 617.8 L844.5 618.2 L845.5 618.5 L846.5 618.9 L847.5 619.3 L848.5 619.6 L849.5 620.0 L850.5 620.3 L851.5 620.7 L852.5 621.0 L853.5 621.3 L854.5 621.6 L855.5 621.9 L856.5 622.3 L857.5 622.5 L858.5 622.8 L859.5 623.1 L860.5 623.4 L861.5 623.7 L862.5 623.9 L863.5 624.2 L864.5 624.5 L865.5 624.7 L866.5 625.0 L867.5 625.2 L868.5 625.4 L869.5 625.7 L870.5 625.9 L871.5 626.1 L872.5 626.3 L873.5 626.5 L874.5 626.8 L875.5 627.0 L876.5 627.2 L877.5 627.3 L878.5 627.5 L879.5 627.7 L880.5 627.9 L881.5 628.1 L882.5 628.3 L883.5 628.4 L884.5 628.6 L885.5 628.8 L886.5 628.9 L887.5 629.1 L888.5 629.2 L889.5 629.4 L890.5 629.5 L891.5 629.7 L892.5 629.8 L893.5 629.9 L894.5 630.1 L895.5 630.2 L896.5 630.3 L897.5 630.4 L898.5 630.6 L899.5 630.7 L900.5 630.8 L901.5 630.9 L902.5 631.0 L903.5 631.1 L904.5 631.2 L905.5 631.3 L906.5 631.4 L907.5 631.5 L908.5 631.6 L909.5 631.7 L910.5 631.8 L911.5 631.9 L912.5 632.0 L913.5 632.1 L914.5 632.2 L915.5 632.3 L916.5 632.3 L917.5 632.4 L918.5 632.5 L919.5 632.6 L920.5 632.6 L921.5 632.7 L922.5 632.8 L923.5 632.8 L924.5 632.9 L925.5 633.0 L926.5 633.0 L927.5 633.1 L928.5 633.2 L929.5 633.2 L930.5 633.3 L931.5 633.3 L932.5 633.4 L933.5 633.4 L934.5 633.5 L935.5 633.5 L936.5 633.6 L937.5 633.6 L938.5 633.7 L939.5 633.7 L940.5 633.8 L941.5 633.8 L942.5 633.9 L943.5 633.9 L944.5 633.9 L945.5 634.0 L946.5 634.0 L947.5 634.1 L948.5 634.1 L949.5 634.1" stroke="#1763DA"/>
<path d="M185.5 635.1 L186.5 635.0 L187.5 635.0 L188.5 634.9 L189.5 634.9 L190.5 634.8 L191.5 634.7 L192.5 634.6 L193.5 634.5 L194.5 634.4 L195.5 634.3 L196.5 634.2 L197.5 634.1 L198.5 633.9 L199.5 633.8 L200.5 633.6 L201.5 633.5 L202.5 633.3 L203.5 633.1 L204.5 632.8 L205.5 632.6 L206.5 632.3 L207.5 632.1 L208.5 631.8 L209.5 631.5 L210.5 631.1 L211.5 630.8 L212.5 630.4 L213.5 630.0 L214.5 629.5 L215.5 629.1 L216.5 628.6 L217.5 628.1 L218.5 627.5 L219.5 626.9 L220.5 626.3 L221.5 625.7 L222.5 625.0 L223.5 624.3 L224.5 623.5 L225.5 622.7 L226.5 621.9 L227.5 621.0 L228.5 620.1 L229.5 619.1 L230.5 618.1 L231.5 617.0 L232.5 615.9 L233.5 614.8 L234.5 613.6 L235.5 612.3 L236.5 611.0 L237.5 609.7 L238.5 608.3 L239.5 606.8 L240.5 605.3 L241.5 603.8 L242.5 602.2 L243.5 600.5 L244.5 598.8 L245.5 597.0 L246.5 595.1 L247.5 593.2 L248.5 591.3 L249.5 589.3 L250.5 587.2 L251.5 585.0 L252.5 582.8 L253.5 580.6 L254.5 578.3 L255.5 575.9 L256.5 573.4 L257.5 570.9 L258.5 568.4 L259.5 565.7 L260.5 563.1 L261.5 560.3 L262.5 557.5 L263.5 554.6 L264.5 551.7 L265.5 548.7 L266.5 545.6 L267.5 542.5 L268.5 539.3 L269.5 536.1 L270.5 532.8 L271.5 529.5 L272.5 526.0 L273.5 522.6 L274.5 519.0 L275.5 515.5 L276.5 511.8 L277.5 508.1 L278.5 504.4 L279.5 500.5 L280.5 496.7 L281.5 492.8 L282.5 488.8 L283.5 484.8 L284.5 480.7 L285.5 476.6 L286.5 472.4 L287.5 468.2 L288.5 464.0 L289.5 459.7 L290.5 455.3 L291.5 451.0 L292.5 446.5 L293.5 442.1 L294.5 437.6 L295.5 433.1 L296.5 428.5 L297.5 423.9 L298.5 419.3 L299.5 414.7 L300.5 410.0 L301.5 405.4 L302.5 400.7 L303.5 396.0 L304.5 391.2 L305.5 386.5 L306.5 381.8 L307.5 377.0 L308.5 372.3 L309.5 367.5 L310.5 362.8 L311.5 358.1 L312.5 353.3 L313.5 348.6 L314.5 343.9 L315.5 339.2 L316.5 334.6 L317.5 329.9 L318.5 325.3 L319.5 320.8 L320.5 316.2 L321.5 311.7 L322.5 307.2 L323.5 302.8 L324.5 298.4 L325.5 294.1 L326.5 289.8 L327.5 285.6 L328.5 281.4 L329.5 277.3 L330.5 273.3 L331.5 269.3 L332.5 265.4 L333.5 261.6 L334.5 257.9 L335.5 254.2 L336.5 250.6 L337.5 247.1 L338.5 243.7 L339.5 240.4 L340.5 237.1 L341.5 234.0 L342.5 230.9 L343.5 228.0 L344.5 225.1 L345.5 222.4 L346.5 219.8 L347.5 217.2 L348.5 214.8 L349.5 212.5 L350.5 210.3 L351.5 208.2 L352.5 206.2 L353.5 204.3 L354.5 202.6 L355.5 201.0 L356.5 199.4 L357.5 198.0 L358.5 196.8 L359.5 195.6 L360.5 194.5 L361.5 193.6 L362.5 192.8 L363.5 192.1 L364.5 191.5 L365.5 191.1 L366.5 190.8 L367.5 190.5 L368.5 190.4 L369.5 190.4 L370.5 190.6 L371.5 190.8 L372.5 191.2 L373.5 191.6 L374.5 192.2 L375.5 192.9 L376.5 193.7 L377.5 194.6 L378.5 195.6 L379.5 196.7 L380.5 197.9 L381.5 199.2 L382.5 200.6 L383.5 202.0 L384.5 203.6 L385.5 205.3 L386.5 207.0 L387.5 208.9 L388.5 210.8 L389.5 212.8 L390.5 214.8 L391.5 217.0 L392.5 219.2 L393.5 221.5 L394.5 223.8 L395.5 226.2 L396.5 228.7 L397.5 231.2 L398.5 233.8 L399.5 236.4 L400.5 239.0 L401.5 241.7 L402.5 244.5 L403.5 247.3 L404.5 250.1 L405.5 252.9 L406.5 255.8 L407.5 258.7 L408.5 261.6 L409.5 264.5 L410.5 267.4 L411.5 270.4 L412.5 273.3 L413.5 276.3 L414.5 279.2 L415.5 282.2 L416.5 285.1 L417.5 288.1 L418.5 291.0 L419.5 293.9 L420.5 296.8 L421.5 299.7 L422.5 302.5 L423.5 305.3 L424.5 308.1 L425.5 310.9 L426.5 313.6 L427.5 316.3 L428.5 318.9 L429.5 321.5 L430.5 324.0 L431.5 326.5 L432.5 329.0 L433.5 331.4 L434.5 333.7 L435.5 336.0 L436.5 338.2 L437.5 340.4 L438.5 342.5 L439.5 344.5 L440.5 346.4 L441.5 348.3 L442.5 350.2 L443.5 351.9 L444.5 353.6 L445.5 355.2 L446.5 356.7 L447.5 358.1 L448.5 359.5 L449.5 360.7 L450.5 361.9 L451.5 363.0 L452.5 364.0 L453.5 365.0 L454.5 365.8 L455.5 366.6 L456.5 367.3 L457.5 367.8 L458.5 368.3 L459.5 368.7 L460.5 369.0 L461.5 369.3 L462.5 369.4 L463.5 369.5 L464.5 369.4 L465.5 369.3 L466.5 369.0 L467.5 368.7 L468.5 368.3 L469.5 367.8 L470.5 367.3 L471.5 366.6 L472.5 365.8 L473.5 365.0 L474.5 364.0 L475.5 363.0 L476.5 361.9 L477.5 360.7 L478.5 359.5 L479.5 358.1 L480.5 356.7 L481.5 355.2 L482.5 353.6 L483.5 351.9 L484.5 350.2 L485.5 348.4 L486.5 346.5 L487.5 344.5 L488.5 342.5 L489.5 340.4 L490.5 338.2 L491.5 336.0 L492.5 333.7 L493.5 331.3 L494.5 328.9 L495.5 326.4 L496.5 323.9 L497.5 321.3 L498.5 318.6 L499.5 315.9 L500.5 313.2 L501.5 310.4 L502.5 307.6 L503.5 304.7 L504.5 301.8 L505.5 298.8 L506.5 295.8 L507.5 292.8 L508.5 289.7 L509.5 286.6 L510.5 283.5 L511.5 280.4 L512.5 277.2 L513.5 274.0 L514.5 270.8 L515.5 267.6 L516.5 264.3 L517.5 261.1 L518.5 257.8 L519.5 254.5 L520.5 251.2 L521.5 247.9 L522.5 244.7 L523.5 241.4 L524.5 238.1 L525.5 234.8 L526.5 231.5 L527.5 228.3 L528.5 225.0 L529.5 221.7 L530.5 218.5 L531.5 215.3 L532.5 212.1 L533.5 208.9 L534.5 205.8 L535.5 202.7 L536.5 199.6 L537.5 196.5 L538.5 193.4 L539.5 190.4 L540.5 187.5 L541.5 184.5 L542.5 181.6 L543.5 178.8 L544.5 175.9 L545.5 173.1 L546.5 170.4 L547.5 167.7 L548.5 165.1 L549.5 162.5 L550.5 159.9 L551.5 157.4 L552.5 155.0 L553.5 152.6 L554.5 150.3 L555.5 148.0 L556.5 145.8 L557.5 143.6 L558.5 141.5 L559.5 139.5 L560.5 137.5 L561.5 135.6 L562.5 133.7 L563.5 131.9 L564.5 130.2 L565.5 128.5 L566.5 127.0 L567.5 125.4 L568.5 124.0 L569.5 122.6 L570.5 121.3 L571.5 120.0 L572.5 118.9 L573.5 117.8 L574.5 116.7 L575.5 115.8 L576.5 114.9 L577.5 114.1 L578.5 113.3 L579.5 112.7 L580.5 112.1 L581.5 111.6 L582.5 111.1 L583.5 110.7 L584.5 110.4 L585.5 110.2 L586.5 110.1 L587.5 110.0 L588.5 110.0 L589.5 110.0 L590.5 110.2 L591.5 110.4 L592.5 110.7 L593.5 111.0 L594.5 111.4 L595.5 111.9 L596.5 112.5 L597.5 113.1 L598.5 113.8 L599.5 114.6 L600.5 115.5 L601.5 116.4 L602.5 117.3 L603.5 118.4 L604.5 119.5 L605.5 120.7 L606.5 121.9 L607.5 123.2 L608.5 124.6 L609.5 126.0 L610.5 127.5 L611.5 129.1 L612.5 130.7 L613.5 132.3 L614.5 134.1 L615.5 135.9 L616.5 137.7 L617.5 139.6 L618.5 141.6 L619.5 143.6 L620.5 145.6 L621.5 147.7 L622.5 149.9 L623.5 152.1 L624.5 154.4 L625.5 156.7 L626.5 159.0 L627.5 161.4 L628.5 163.9 L629.5 166.3 L630.5 168.9 L631.5 171.4 L632.5 174.0 L633.5 176.7 L634.5 179.4 L635.5 182.1 L636.5 184.9 L637.5 187.7 L638.5 190.5 L639.5 193.3 L640.5 196.2 L641.5 199.1 L642.5 202.1 L643.5 205.1 L644.5 208.1 L645.5 211.1 L646.5 214.2 L647.5 217.2 L648.5 220.3 L649.5 223.5 L650.5 226.6 L651.5 229.8 L652.5 233.0 L653.5 236.2 L654.5 239.4 L655.5 242.6 L656.5 245.9 L657.5 249.1 L658.5 252.4 L659.5 255.7 L660.5 259.0 L661.5 262.3 L662.5 265.6 L663.5 268.9 L664.5 272.2 L665.5 275.6 L666.5 278.9 L667.5 282.3 L668.5 285.6 L669.5 289.0 L670.5 292.3 L671.5 295.7 L672.5 299.0 L673.5 302.4 L674.5 305.7 L675.5 309.1 L676.5 312.4 L677.5 315.7 L678.5 319.1 L679.5 322.4 L680.5 325.7 L681.5 329.1 L682.5 332.4 L683.5 335.7 L684.5 339.0 L685.5 342.2 L686.5 345.5 L687.5 348.8 L688.5 352.0 L689.5 355.3 L690.5 358.5 L691.5 361.7 L692.5 364.9 L693.5 368.1 L694.5 371.3 L695.5 374.4 L696.5 377.6 L697.5 380.7 L698.5 383.8 L699.5 386.9 L700.5 390.0 L701.5 393.0 L702.5 396.1 L703.5 399.1 L704.5 402.1 L705.5 405.1 L706.5 408.0 L707.5 411.0 L708.5 413.9 L709.5 416.8 L710.5 419.7 L711.5 422.6 L712.5 425.4 L713.5 428.2 L714.5 431.0 L715.5 433.8 L716.5 436.6 L717.5 439.3 L718.5 442.0 L719.5 444.7 L720.5 447.4 L721.5 450.0 L722.5 452.6 L723.5 455.2 L724.5 457.8 L725.5 460.3 L726.5 462.8 L727.5 465.3 L728.5 467.8 L729.5 470.3 L730.5 472.7 L731.5 475.1 L732.5 477.5 L733.5 479.8 L734.5 482.2 L735.5 484.5 L736.5 486.8 L737.5 489.0 L738.5 491.3 L739.5 493.5 L740.5 495.7 L741.5 497.8 L742.5 500.0 L743.5 502.1 L744.5 504.2 L745.5 506.2 L746.5 508.3 L747.5 510.3 L748.5 512.3 L749.5 514.2 L750.5 516.2 L751.5 518.1 L752.5 520.0 L753.5 521.9 L754.5 523.7 L755.5 525.6 L756.5 527.4 L757.5 529.2 L758.5 530.9 L759.5 532.7 L760.5 534.4 L761.5 536.1 L762.5 537.7 L763.5 539.4 L764.5 541.0 L765.5 542.6 L766.5 544.2 L767.5 545.8 L768.5 547.3 L769.5 548.8 L770.5 550.3 L771.5 551.8 L772.5 553.3 L773.5 554.7 L774.5 556.1 L775.5 557.5 L776.5 558.9 L777.5 560.2 L778.5 561.6 L779.5 562.9 L780.5 564.2 L781.5 565.5 L782.5 566.7 L783.5 568.0 L784.5 569.2 L785.5 570.4 L786.5 571.6 L787.5 572.7 L788.5 573.9 L789.5 575.0 L790.5 576.1 L791.5 577.2 L792.5 578.3 L793.5 579.4 L794.5 580.4 L795.5 581.4 L796.5 582.4 L797.5 583.4 L798.5 584.4 L799.5 585.4 L800.5 586.3 L801.5 587.3 L802.5 588.2 L803.5 589.1 L804.5 590.0 L805.5 590.8 L806.5 591.7 L807.5 592.5 L808.5 593.4 L809.5 594.2 L810.5 595.0 L811.5 595.8 L812.5 596.5 L813.5 597.3 L814.5 598.0 L815.5 598.8 L816.5 599.5 L817.5 600.2 L818.5 600.9 L819.5 601.6 L820.5 602.3 L821.5 602.9 L822.5 603.6 L823.5 604.2 L824.5 604.8 L825.5 605.5 L826.5 606.1 L827.5 606.6 L828.5 607.2 L829.5 607.8 L830.5 608.4 L831.5 608.9 L832.5 609.5 L833.5 610.0 L834.5 610.5 L835.5 611.0 L836.5 611.5 L837.5 612.0 L838.5 612.5 L839.5 613.0 L840.5 613.4 L841.5 613.9 L842.5 614.3 L843.5 614.8 L844.5 615.2 L845.5 615.6 L846.5 616.1 L847.5 616.5 L848.5 616.9 L849.5 617.3 L850.5 617.6 L851.5 618.0 L852.5 618.4 L853.5 618.8 L854.5 619.1 L855.5 619.5 L856.5 619.8 L857.5 620.1 L858.5 620.5 L859.5 620.8 L860.5 621.1 L861.5 621.4 L862.5 621.7 L863.5 622.0 L864.5 622.3 L865.5 622.6 L866.5 622.9 L867.5 623.1 L868.5 623.4 L869.5 623.7 L870.5 623.9 L871.5 624.2 L872.5 624.4 L873.5 624.7 L874.5 624.9 L875.5 625.1 L876.5 625.4 L877.5 625.6 L878.5 625.8 L879.5 626.0 L880.5 626.2 L881.5 626.4 L882.5 626.6 L883.5 626.8 L884.5 627.0 L885.5 627.2 L886.5 627.4 L887.5 627.6 L888.5 627.8 L889.5 627.9 L890.5 628.1 L891.5 628.3 L892.5 628.4 L893.5 628.6 L894.5 628.7 L895.5 628.9 L896.5 629.0 L897.5 629.2 L898.5 629.3 L899.5 629.5 L900.5 629.6 L901.5 629.7 L902.5 629.9 L903.5 630.0 L904.5 630.1 L905.5 630.3 L906.5 630.4 L907.5 630.5 L908.5 630.6 L909.5 630.7 L910.5 630.8 L911.5 630.9 L912.5 631.0 L913.5 631.1 L914.5 631.2 L915.5 631.3 L916.5 631.4 L917.5 631.5 L918.5 631.6 L919.5 631.7 L920.5 631.8 L921.5 631.9 L922.5 632.0 L923.5 632.1 L924.5 632.1 L925.5 632.2 L926.5 632.3 L927.5 632.4 L928.5 632.4 L929.5 632.5 L930.5 632.6 L931.5 632.7 L932.5 632.7 L933.5 632.8 L934.5 632.8 L935.5 632.9 L936.5 633.0 L937.5 633.0 L938.5 633.1 L939.5 633.1 L940.5 633.2 L941.5 633.3 L942.5 633.3 L943.5 633.4 L944.5 633.4 L945.5 633.5 L946.5 633.5 L947.5 633.6 L948.5 633.6 L949.5 633.7" stroke="#2AA35E"/>
<path d="M185.5 633.3 L186.5 633.1 L187.5 632.9 L188.5 632.8 L189.5 632.5 L190.5 632.3 L191.5 632.1 L192.5 631.8 L193.5 631.6 L194.5 631.3 L195.5 631.0 L196.5 630.7 L197.5 630.3 L198.5 630.0 L199.5 629.6 L200.5 629.2 L201.5 628.8 L202.5 628.3 L203.5 627.9 L204.5 627.4 L205.5 626.8 L206.5 626.3 L207.5 625.7 L208.5 625.1 L209.5 624.5 L210.5 623.8 L211.5 623.1 L212.5 622.4 L213.5 621.6 L214.5 620.8 L215.5 619.9 L216.5 619.0 L217.5 618.1 L218.5 617.2 L219.5 616.1 L220.5 615.1 L221.5 614.0 L222.5 612.9 L223.5 611.7 L224.5 610.4 L225.5 609.2 L226.5 607.8 L227.5 606.4 L228.5 605.0 L229.5 603.5 L230.5 602.0 L231.5 600.4 L232.5 598.7 L233.5 597.0 L234.5 595.2 L235.5 593.4 L236.5 591.5 L237.5 589.6 L238.5 587.5 L239.5 585.5 L240.5 583.3 L241.5 581.1 L242.5 578.9 L243.5 576.5 L244.5 574.1 L245.5 571.7 L246.5 569.1 L247.5 566.6 L248.5 563.9 L249.5 561.2 L250.5 558.4 L251.5 555.5 L252.5 552.6 L253.5 549.6 L254.5 546.5 L255.5 543.4 L256.5 540.2 L257.5 536.9 L258.5 533.6 L259.5 530.2 L260.5 526.7 L261.5 523.2 L262.5 519.6 L263.5 516.0 L264.5 512.3 L265.5 508.5 L266.5 504.6 L267.5 500.7 L268.5 496.8 L269.5 492.8 L270.5 488.7 L271.5 484.6 L272.5 480.4 L273.5 476.2 L274.5 471.9 L275.5 467.6 L276.5 463.2 L277.5 458.7 L278.5 454.3 L279.5 449.8 L280.5 445.2 L281.5 440.6 L282.5 436.0 L283.5 431.3 L284.5 426.6 L285.5 421.9 L286.5 417.1 L287.5 412.3 L288.5 407.5 L289.5 402.7 L290.5 397.8 L291.5 392.9 L292.5 388.0 L293.5 383.1 L294.5 378.2 L295.5 373.3 L296.5 368.3 L297.5 363.4 L298.5 358.4 L299.5 353.5 L300.5 348.6 L301.5 343.6 L302.5 338.7 L303.5 333.8 L304.5 328.9 L305.5 324.0 L306.5 319.1 L307.5 314.2 L308.5 309.4 L309.5 304.6 L310.5 299.8 L311.5 295.0 L312.5 290.3 L313.5 285.6 L314.5 280.9 L315.5 276.3 L316.5 271.7 L317.5 267.2 L318.5 262.7 L319.5 258.2 L320.5 253.8 L321.5 249.5 L322.5 245.2 L323.5 241.0 L324.5 236.8 L325.5 232.7 L326.5 228.6 L327.5 224.6 L328.5 220.7 L329.5 216.8 L330.5 213.0 L331.5 209.3 L332.5 205.6 L333.5 202.1 L334.5 198.6 L335.5 195.1 L336.5 191.8 L337.5 188.5 L338.5 185.4 L339.5 182.3 L340.5 179.3 L341.5 176.3 L342.5 173.5 L343.5 170.8 L344.5 168.1 L345.5 165.5 L346.5 163.1 L347.5 160.7 L348.5 158.4 L349.5 156.2 L350.5 154.2 L351.5 152.2 L352.5 150.3 L353.5 148.5 L354.5 146.8 L355.5 145.2 L356.5 143.7 L357.5 142.3 L358.5 141.0 L359.5 139.8 L360.5 138.8 L361.5 137.8 L362.5 136.9 L363.5 136.1 L364.5 135.4 L365.5 134.9 L366.5 134.4 L367.5 134.0 L368.5 133.8 L369.5 133.6 L370.5 133.6 L371.5 133.6 L372.5 133.8 L373.5 134.0 L374.5 134.3 L375.5 134.8 L376.5 135.3 L377.5 136.0 L378.5 136.7 L379.5 137.5 L380.5 138.5 L381.5 139.5 L382.5 140.6 L383.5 141.8 L384.5 143.1 L385.5 144.5 L386.5 146.0 L387.5 147.6 L388.5 149.2 L389.5 150.9 L390.5 152.8 L391.5 154.7 L392.5 156.6 L393.5 158.7 L394.5 160.8 L395.5 163.0 L396.5 165.3 L397.5 167.6 L398.5 170.0 L399.5 172.5 L400.5 175.1 L401.5 177.7 L402.5 180.3 L403.5 183.1 L404.5 185.8 L405.5 188.7 L406.5 191.5 L407.5 194.5 L408.5 197.5 L409.5 200.5 L410.5 203.5 L411.5 206.6 L412.5 209.8 L413.5 213.0 L414.5 216.2 L415.5 219.4 L416.5 222.7 L417.5 226.0 L418.5 229.3 L419.5 232.6 L420.5 235.9 L421.5 239.3 L422.5 242.7 L423.5 246.0 L424.5 249.4 L425.5 252.8 L426.5 256.2 L427.5 259.6 L428.5 263.0 L429.5 266.4 L430.5 269.7 L431.5 273.1 L432.5 276.4 L433.5 279.8 L434.5 283.1 L435.5 286.3 L436.5 289.6 L437.5 292.8 L438.5 296.0 L439.5 299.2 L440.5 302.4 L441.5 305.5 L442.5 308.5 L443.5 311.6 L444.5 314.5 L445.5 317.5 L446.5 320.4 L447.5 323.2 L448.5 326.0 L449.5 328.7 L450.5 331.4 L451.5 334.1 L452.5 336.6 L453.5 339.1 L454.5 341.6 L455.5 343.9 L456.5 346.3 L457.5 348.5 L458.5 350.7 L459.5 352.8 L460.5 354.8 L461.5 356.8 L462.5 358.7 L463.5 360.5 L464.5 362.2 L465.5 363.9 L466.5 365.4 L467.5 366.9 L468.5 368.3 L469.5 369.7 L470.5 370.9 L471.5 372.1 L472.5 373.2 L473.5 374.2 L474.5 375.1 L475.5 375.9 L476.5 376.6 L477.5 377.3 L478.5 377.8 L479.5 378.3 L480.5 378.7 L481.5 379.0 L482.5 379.2 L483.5 379.3 L484.5 379.4 L485.5 379.3 L486.5 379.2 L487.5 379.0 L488.5 378.7 L489.5 378.3 L490.5 377.8 L491.5 377.2 L492.5 376.6 L493.5 375.8 L494.5 375.0 L495.5 374.1 L496.5 373.1 L497.5 372.1 L498.5 370.9 L499.5 369.7 L500.5 368.4 L501.5 367.0 L502.5 365.6 L503.5 364.1 L504.5 362.5 L505.5 360.8 L506.5 359.1 L507.5 357.3 L508.5 355.4 L509.5 353.5 L510.5 351.5 L511.5 349.4 L512.5 347.3 L513.5 345.1 L514.5 342.9 L515.5 340.6 L516.5 338.3 L517.5 335.9 L518.5 333.4 L519.5 330.9 L520.5 328.4 L521.5 325.8 L522.5 323.2 L523.5 320.5 L524.5 317.8 L525.5 315.1 L526.5 312.3 L527.5 309.5 L528.5 306.6 L529.5 303.8 L530.5 300.9 L531.5 298.0 L532.5 295.0 L533.5 292.1 L534.5 289.1 L535.5 286.1 L536.5 283.1 L537.5 280.1 L538.5 277.1 L539.5 274.0 L540.5 271.0 L541.5 268.0 L542.5 264.9 L543.5 261.9 L544.5 258.8 L545.5 255.8 L546.5 252.8 L547.5 249.7 L548.5 246.7 L549.5 243.7 L550.5 240.8 L551.5 237.8 L552.5 234.8 L553.5 231.9 L554.5 229.0 L555.5 226.1 L556.5 223.3 L557.5 220.4 L558.5 217.6 L559.5 214.9 L560.5 212.1 L561.5 209.4 L562.5 206.8 L563.5 204.1 L564.5 201.5 L565.5 199.0 L566.5 196.5 L567.5 194.0 L568.5 191.6 L569.5 189.2 L570.5 186.9 L571.5 184.6 L572.5 182.3 L573.5 180.1 L574.5 178.0 L575.5 175.9 L576.5 173.9 L577.5 171.9 L578.5 170.0 L579.5 168.1 L580.5 166.3 L581.5 164.6 L582.5 162.9 L583.5 161.3 L584.5 159.7 L585.5 158.2 L586.5 156.7 L587.5 155.3 L588.5 154.0 L589.5 152.8 L590.5 151.6 L591.5 150.4 L592.5 149.4 L593.5 148.4 L594.5 147.4 L595.5 146.6 L596.5 145.7 L597.5 145.0 L598.5 144.3 L599.5 143.7 L600.5 143.2 L601.5 142.7 L602.5 142.3 L603.5 142.0 L604.5 141.7 L605.5 141.5 L606.5 141.3 L607.5 141.2 L608.5 141.2 L609.5 141.3 L610.5 141.4 L611.5 141.6 L612.5 141.8 L613.5 142.1 L614.5 142.5 L615.5 142.9 L616.5 143.4 L617.5 144.0 L618.5 144.6 L619.5 145.3 L620.5 146.0 L621.5 146.9 L622.5 147.7 L623.5 148.6 L624.5 149.6 L625.5 150.7 L626.5 151.8 L627.5 152.9 L628.5 154.1 L629.5 155.4 L630.5 156.7 L631.5 158.1 L632.5 159.5 L633.5 161.0 L634.5 162.5 L635.5 164.1 L636.5 165.7 L637.5 167.4 L638.5 169.1 L639.5 170.9 L640.5 172.7 L641.5 174.6 L642.5 176.5 L643.5 178.5 L644.5 180.5 L645.5 182.5 L646.5 184.6 L647.5 186.7 L648.5 188.9 L649.5 191.1 L650.5 193.3 L651.5 195.6 L652.5 197.9 L653.5 200.2 L654.5 202.6 L655.5 205.0 L656.5 207.4 L657.5 209.9 L658.5 212.4 L659.5 214.9 L660.5 217.5 L661.5 220.1 L662.5 222.7 L663.5 225.3 L664.5 228.0 L665.5 230.7 L666.5 233.4 L667.5 236.1 L668.5 238.9 L669.5 241.6 L670.5 244.4 L671.5 247.2 L672.5 250.0 L673.5 252.9 L674.5 255.7 L675.5 258.6 L676.5 261.5 L677.5 264.4 L678.5 267.3 L679.5 270.2 L680.5 273.2 L681.5 276.1 L682.5 279.1 L683.5 282.0 L684.5 285.0 L685.5 288.0 L686.5 290.9 L687.5 293.9 L688.5 296.9 L689.5 299.9 L690.5 302.9 L691.5 305.9 L692.5 308.9 L693.5 311.9 L694.5 314.9 L695.5 317.9 L696.5 320.9 L697.5 324.0 L698.5 327.0 L699.5 330.0 L700.5 332.9 L701.5 335.9 L702.5 338.9 L703.5 341.9 L704.5 344.9 L705.5 347.9 L706.5 350.8 L707.5 353.8 L708.5 356.7 L709.5 359.7 L710.5 362.6 L711.5 365.5 L712.5 368.4 L713.5 371.3 L714.5 374.2 L715.5 377.1 L716.5 380.0 L717.5 382.8 L718.5 385.7 L719.5 388.5 L720.5 391.4 L721.5 394.2 L722.5 397.0 L723.5 399.7 L724.5 402.5 L725.5 405.3 L726.5 408.0 L727.5 410.7 L728.5 413.4 L729.5 416.1 L730.5 418.8 L731.5 421.5 L732.5 424.1 L733.5 426.7 L734.5 429.3 L735.5 431.9 L736.5 434.5 L737.5 437.0 L738.5 439.6 L739.5 442.1 L740.5 444.6 L741.5 447.1 L742.5 449.6 L743.5 452.0 L744.5 454.4 L745.5 456.8 L746.5 459.2 L747.5 461.6 L748.5 463.9 L749.5 466.3 L750.5 468.6 L751.5 470.9 L752.5 473.1 L753.5 475.4 L754.5 477.6 L755.5 479.8 L756.5 482.0 L757.5 484.2 L758.5 486.3 L759.5 488.5 L760.5 490.6 L761.5 492.7 L762.5 494.7 L763.5 496.8 L764.5 498.8 L765.5 500.8 L766.5 502.8 L767.5 504.8 L768.5 506.7 L769.5 508.6 L770.5 510.5 L771.5 512.4 L772.5 514.3 L773.5 516.1 L774.5 518.0 L775.5 519.8 L776.5 521.5 L777.5 523.3 L778.5 525.0 L779.5 526.8 L780.5 528.5 L781.5 530.2 L782.5 531.8 L783.5 533.5 L784.5 535.1 L785.5 536.7 L786.5 538.3 L787.5 539.8 L788.5 541.4 L789.5 542.9 L790.5 544.4 L791.5 545.9 L792.5 547.4 L793.5 548.8 L794.5 550.3 L795.5 551.7 L796.5 553.1 L797.5 554.5 L798.5 555.8 L799.5 557.2 L800.5 558.5 L801.5 559.8 L802.5 561.1 L803.5 562.4 L804.5 563.6 L805.5 564.9 L806.5 566.1 L807.5 567.3 L808.5 568.5 L809.5 569.6 L810.5 570.8 L811.5 571.9 L812.5 573.0 L813.5 574.1 L814.5 575.2 L815.5 576.3 L816.5 577.4 L817.5 578.4 L818.5 579.4 L819.5 580.4 L820.5 581.4 L821.5 582.4 L822.5 583.4 L823.5 584.3 L824.5 585.3 L825.5 586.2 L826.5 587.1 L827.5 588.0 L828.5 588.9 L829.5 589.7 L830.5 590.6 L831.5 591.4 L832.5 592.3 L833.5 593.1 L834.5 593.9 L835.5 594.7 L836.5 595.4 L837.5 596.2 L838.5 597.0 L839.5 597.7 L840.5 598.4 L841.5 599.1 L842.5 599.8 L843.5 600.5 L844.5 601.2 L845.5 601.9 L846.5 602.5 L847.5 603.2 L848.5 603.8 L849.5 604.4 L850.5 605.0 L851.5 605.6 L852.5 606.2 L853.5 606.8 L854.5 607.4 L855.5 608.0 L856.5 608.5 L857.5 609.1 L858.5 609.6 L859.5 610.1 L860.5 610.6 L861.5 611.1 L862.5 611.6 L863.5 612.1 L864.5 612.6 L865.5 613.1 L866.5 613.5 L867.5 614.0 L868.5 614.4 L869.5 614.9 L870.5 615.3 L871.5 615.7 L872.5 616.1 L873.5 616.5 L874.5 616.9 L875.5 617.3 L876.5 617.7 L877.5 618.1 L878.5 618.4 L879.5 618.8 L880.5 619.1 L881.5 619.5 L882.5 619.8 L883.5 620.2 L884.5 620.5 L885.5 620.8 L886.5 621.1 L887.5 621.4 L888.5 621.7 L889.5 622.0 L890.5 622.3 L891.5 622.6 L892.5 622.9 L893.5 623.2 L894.5 623.4 L895.5 623.7 L896.5 624.0 L897.5 624.2 L898.5 624.5 L899.5 624.7 L900.5 625.0 L901.5 625.2 L902.5 625.4 L903.5 625.6 L904.5 625.9 L905.5 626.1 L906.5 626.3 L907.5 626.5 L908.5 626.7 L909.5 626.9 L910.5 627.1 L911.5 627.3 L912.5 627.5 L913.5 627.6 L914.5 627.8 L915.5 628.0 L916.5 628.2 L917.5 628.3 L918.5 628.5 L919.5 628.7 L920.5 628.8 L921.5 629.0 L922.5 629.1 L923.5 629.3 L924.5 629.4 L925.5 629.6 L926.5 629.7 L927.5 629.8 L928.5 630.0 L929.5 630.1 L930.5 630.2 L931.5 630.3 L932.5 630.5 L933.5 630.6 L934.5 630.7 L935.5 630.8 L936.5 630.9 L937.5 631.0 L938.5 631.1 L939.5 631.2 L940.5 631.3 L941.5 631.4 L942.5 631.5 L943.5 631.6 L944.5 631.7 L945.5 631.8 L946.5 631.9 L947.5 632.0 L948.5 632.1 L949.5 632.2" stroke="#A765DD"/>
</g>
<g stroke="#222" fill="none">
<line x1="171.0" y1="19.8" x2="952.8" y2="19.8" stroke-width="3"/>
<line x1="184.0" y1="18.3" x2="184.0" y2="643.5" stroke-width="3"/>
<line x1="951.3" y1="18.3" x2="951.3" y2="641.5" stroke-width="3"/>
<line x1="184.0" y1="639.5" x2="952.8" y2="639.5" stroke-width="4.5" stroke="#555"/>
<line x1="171.0" y1="635.5" x2="184.0" y2="635.5" stroke-width="2.5"/>
<line x1="177.0" y1="573.9" x2="184.0" y2="573.9" stroke-width="2.5"/>
<line x1="171.0" y1="512.4" x2="184.0" y2="512.4" stroke-width="2.5"/>
<line x1="177.0" y1="450.8" x2="184.0" y2="450.8" stroke-width="2.5"/>
<line x1="171.0" y1="389.2" x2="184.0" y2="389.2" stroke-width="2.5"/>
<line x1="177.0" y1="327.7" x2="184.0" y2="327.7" stroke-width="2.5"/>
<line x1="171.0" y1="266.1" x2="184.0" y2="266.1" stroke-width="2.5"/>
<line x1="177.0" y1="204.5" x2="184.0" y2="204.5" stroke-width="2.5"/>
<line x1="171.0" y1="142.9" x2="184.0" y2="142.9" stroke-width="2.5"/>
<line x1="177.0" y1="81.4" x2="184.0" y2="81.4" stroke-width="2.5"/>
<line x1="184.0" y1="639.5" x2="184.0" y2="645.5" stroke-width="2.5"/>
<line x1="300.1" y1="639.5" x2="300.1" y2="651.5" stroke-width="2.5"/>
<line x1="416.1" y1="639.5" x2="416.1" y2="645.5" stroke-width="2.5"/>
<line x1="532.2" y1="639.5" x2="532.2" y2="651.5" stroke-width="2.5"/>
<line x1="648.3" y1="639.5" x2="648.3" y2="645.5" stroke-width="2.5"/>
<line x1="764.4" y1="639.5" x2="764.4" y2="651.5" stroke-width="2.5"/>
<line x1="880.4" y1="639.5" x2="880.4" y2="645.5" stroke-width="2.5"/>
</g>
<g font-size="32.5" fill="#000">
<text x="165.5" y="643.4" text-anchor="end">0</text>
<text x="165.5" y="520.7" text-anchor="end">20000</text>
<text x="165.5" y="398.0" text-anchor="end">40000</text>
<text x="165.5" y="275.4" text-anchor="end">60000</text>
<text x="165.5" y="152.7" text-anchor="end">80000</text>
<text x="165.5" y="30.0" text-anchor="end">100000</text>
<text x="184.0" y="685.0" text-anchor="middle">350</text>
<text x="300.1" y="685.0" text-anchor="middle">400</text>
<text x="416.1" y="685.0" text-anchor="middle">450</text>
<text x="532.2" y="685.0" text-anchor="middle">500</text>
<text x="648.3" y="685.0" text-anchor="middle">550</text>
<text x="764.4" y="685.0" text-anchor="middle">600</text>
<text x="880.4" y="685.0" text-anchor="middle">650</text>
</g>
<text x="483.0" y="63.0" font-size="32.4" textLength="239" lengthAdjust="spacingAndGlyphs">In Gaseous phase</text>
<rect x="741.0" y="54.5" width="197.0" height="203.0" fill="none" stroke="#333" stroke-width="3.5"/>
<line x1="746.0" y1="77.0" x2="821.0" y2="77.0" stroke="#333333" stroke-width="6"/>
<text x="828.0" y="88.0" font-size="32.5">TAZD2</text>
<line x1="746.0" y1="117.0" x2="821.0" y2="117.0" stroke="#E82424" stroke-width="6"/>
<text x="828.0" y="128.0" font-size="32.5">TAZD3</text>
<line x1="746.0" y1="157.0" x2="821.0" y2="157.0" stroke="#1763DA" stroke-width="6"/>
<text x="828.0" y="168.0" font-size="32.5">TAZD4</text>
<line x1="746.0" y1="197.5" x2="821.0" y2="197.5" stroke="#2AA35E" stroke-width="6"/>
<text x="828.0" y="208.5" font-size="32.5">TAZD5</text>
<line x1="746.0" y1="238.0" x2="821.0" y2="238.0" stroke="#A765DD" stroke-width="6"/>
<text x="828.0" y="249.0" font-size="32.5">TAZD6</text>
<text x="567.0" y="739.0" font-size="32.3" text-anchor="middle">Wavelength (<tspan font-style="italic">nm</tspan>)</text>
<text transform="translate(32.0 307.5) rotate(-90)" font-size="32.5" text-anchor="middle">Molar absorption coefficient (ε)</text>
<clipPath id="clipR"><rect x="1228.5" y="30.8" width="749.5" height="603.2"/></clipPath>
<g clip-path="url(#clipR)" fill="none" stroke-width="4.5" stroke-linejoin="round">
<path d="M1230.0 629.4 L1231.0 629.4 L1232.0 629.3 L1233.0 629.3 L1234.0 629.2 L1235.0 629.1 L1236.0 629.0 L1237.0 628.9 L1238.0 628.8 L1239.0 628.7 L1240.0 628.6 L1241.0 628.4 L1242.0 628.3 L1243.0 628.1 L1244.0 627.9 L1245.0 627.7 L1246.0 627.4 L1247.0 627.2 L1248.0 626.9 L1249.0 626.6 L1250.0 626.2 L1251.0 625.9 L1252.0 625.5 L1253.0 625.0 L1254.0 624.5 L1255.0 624.0 L1256.0 623.5 L1257.0 622.9 L1258.0 622.3 L1259.0 621.6 L1260.0 620.8 L1261.0 620.1 L1262.0 619.2 L1263.0 618.4 L1264.0 617.4 L1265.0 616.4 L1266.0 615.4 L1267.0 614.2 L1268.0 613.1 L1269.0 611.8 L1270.0 610.5 L1271.0 609.1 L1272.0 607.7 L1273.0 606.2 L1274.0 604.6 L1275.0 603.0 L1276.0 601.3 L1277.0 599.5 L1278.0 597.6 L1279.0 595.7 L1280.0 593.7 L1281.0 591.6 L1282.0 589.5 L1283.0 587.3 L1284.0 585.0 L1285.0 582.7 L1286.0 580.3 L1287.0 577.9 L1288.0 575.3 L1289.0 572.7 L1290.0 570.1 L1291.0 567.4 L1292.0 564.6 L1293.0 561.8 L1294.0 558.9 L1295.0 556.0 L1296.0 553.0 L1297.0 550.0 L1298.0 546.9 L1299.0 543.8 L1300.0 540.6 L1301.0 537.4 L1302.0 534.1 L1303.0 530.8 L1304.0 527.4 L1305.0 524.0 L1306.0 520.6 L1307.0 517.1 L1308.0 513.5 L1309.0 509.9 L1310.0 506.3 L1311.0 502.6 L1312.0 498.9 L1313.0 495.1 L1314.0 491.2 L1315.0 487.3 L1316.0 483.4 L1317.0 479.3 L1318.0 475.3 L1319.0 471.1 L1320.0 467.0 L1321.0 462.7 L1322.0 458.4 L1323.0 454.0 L1324.0 449.6 L1325.0 445.0 L1326.0 440.5 L1327.0 435.8 L1328.0 431.1 L1329.0 426.3 L1330.0 421.5 L1331.0 416.6 L1332.0 411.6 L1333.0 406.5 L1334.0 401.4 L1335.0 396.2 L1336.0 391.0 L1337.0 385.7 L1338.0 380.4 L1339.0 375.0 L1340.0 369.5 L1341.0 364.1 L1342.0 358.5 L1343.0 353.0 L1344.0 347.4 L1345.0 341.8 L1346.0 336.1 L1347.0 330.5 L1348.0 324.8 L1349.0 319.2 L1350.0 313.5 L1351.0 307.8 L1352.0 302.2 L1353.0 296.5 L1354.0 290.9 L1355.0 285.3 L1356.0 279.7 L1357.0 274.2 L1358.0 268.7 L1359.0 263.3 L1360.0 257.9 L1361.0 252.5 L1362.0 247.2 L1363.0 242.0 L1364.0 236.8 L1365.0 231.7 L1366.0 226.7 L1367.0 221.8 L1368.0 216.9 L1369.0 212.1 L1370.0 207.4 L1371.0 202.8 L1372.0 198.2 L1373.0 193.8 L1374.0 189.4 L1375.0 185.1 L1376.0 181.0 L1377.0 176.9 L1378.0 172.9 L1379.0 169.0 L1380.0 165.1 L1381.0 161.4 L1382.0 157.8 L1383.0 154.3 L1384.0 150.8 L1385.0 147.5 L1386.0 144.3 L1387.0 141.1 L1388.0 138.1 L1389.0 135.1 L1390.0 132.3 L1391.0 129.5 L1392.0 126.9 L1393.0 124.3 L1394.0 121.9 L1395.0 119.6 L1396.0 117.3 L1397.0 115.2 L1398.0 113.1 L1399.0 111.2 L1400.0 109.4 L1401.0 107.6 L1402.0 106.0 L1403.0 104.5 L1404.0 103.1 L1405.0 101.8 L1406.0 100.6 L1407.0 99.6 L1408.0 98.6 L1409.0 97.8 L1410.0 97.0 L1411.0 96.4 L1412.0 95.9 L1413.0 95.5 L1414.0 95.3 L1415.0 95.1 L1416.0 95.1 L1417.0 95.2 L1418.0 95.4 L1419.0 95.7 L1420.0 96.2 L1421.0 96.8 L1422.0 97.5 L1423.0 98.3 L1424.0 99.2 L1425.0 100.3 L1426.0 101.4 L1427.0 102.7 L1428.0 104.1 L1429.0 105.6 L1430.0 107.3 L1431.0 109.0 L1432.0 110.9 L1433.0 112.8 L1434.0 114.9 L1435.0 117.1 L1436.0 119.4 L1437.0 121.8 L1438.0 124.3 L1439.0 126.9 L1440.0 129.6 L1441.0 132.4 L1442.0 135.2 L1443.0 138.2 L1444.0 141.3 L1445.0 144.4 L1446.0 147.7 L1447.0 151.0 L1448.0 154.3 L1449.0 157.8 L1450.0 161.3 L1451.0 164.9 L1452.0 168.6 L1453.0 172.3 L1454.0 176.1 L1455.0 179.9 L1456.0 183.8 L1457.0 187.7 L1458.0 191.7 L1459.0 195.7 L1460.0 199.8 L1461.0 203.9 L1462.0 208.0 L1463.0 212.2 L1464.0 216.3 L1465.0 220.5 L1466.0 224.8 L1467.0 229.0 L1468.0 233.2 L1469.0 237.5 L1470.0 241.7 L1471.0 246.0 L1472.0 250.2 L1473.0 254.5 L1474.0 258.7 L1475.0 263.0 L1476.0 267.2 L1477.0 271.4 L1478.0 275.6 L1479.0 279.8 L1480.0 283.9 L1481.0 288.0 L1482.0 292.1 L1483.0 296.1 L1484.0 300.1 L1485.0 304.1 L1486.0 308.0 L1487.0 311.9 L1488.0 315.8 L1489.0 319.6 L1490.0 323.3 L1491.0 327.0 L1492.0 330.6 L1493.0 334.2 L1494.0 337.7 L1495.0 341.2 L1496.0 344.6 L1497.0 347.9 L1498.0 351.1 L1499.0 354.3 L1500.0 357.5 L1501.0 360.5 L1502.0 363.5 L1503.0 366.4 L1504.0 369.2 L1505.0 372.0 L1506.0 374.7 L1507.0 377.3 L1508.0 379.8 L1509.0 382.2 L1510.0 384.6 L1511.0 386.9 L1512.0 389.0 L1513.0 391.2 L1514.0 393.2 L1515.0 395.1 L1516.0 397.0 L1517.0 398.7 L1518.0 400.4 L1519.0 402.0 L1520.0 403.5 L1521.0 404.9 L1522.0 406.2 L1523.0 407.5 L1524.0 408.6 L1525.0 409.7 L1526.0 410.7 L1527.0 411.5 L1528.0 412.3 L1529.0 413.1 L1530.0 413.7 L1531.0 414.2 L1532.0 414.7 L1533.0 415.1 L1534.0 415.3 L1535.0 415.5 L1536.0 415.7 L1537.0 415.7 L1538.0 415.7 L1539.0 415.5 L1540.0 415.3 L1541.0 415.0 L1542.0 414.7 L1543.0 414.2 L1544.0 413.7 L1545.0 413.1 L1546.0 412.5 L1547.0 411.7 L1548.0 410.9 L1549.0 410.0 L1550.0 409.1 L1551.0 408.1 L1552.0 407.0 L1553.0 405.9 L1554.0 404.6 L1555.0 403.4 L1556.0 402.1 L1557.0 400.7 L1558.0 399.2 L1559.0 397.7 L1560.0 396.2 L1561.0 394.6 L1562.0 392.9 L1563.0 391.2 L1564.0 389.4 L1565.0 387.6 L1566.0 385.8 L1567.0 383.9 L1568.0 382.0 L1569.0 380.0 L1570.0 378.0 L1571.0 376.0 L1572.0 373.9 L1573.0 371.8 L1574.0 369.7 L1575.0 367.6 L1576.0 365.4 L1577.0 363.2 L1578.0 360.9 L1579.0 358.7 L1580.0 356.4 L1581.0 354.2 L1582.0 351.9 L1583.0 349.6 L1584.0 347.2 L1585.0 344.9 L1586.0 342.6 L1587.0 340.2 L1588.0 337.9 L1589.0 335.6 L1590.0 333.2 L1591.0 330.9 L1592.0 328.5 L1593.0 326.2 L1594.0 323.9 L1595.0 321.6 L1596.0 319.3 L1597.0 317.0 L1598.0 314.7 L1599.0 312.4 L1600.0 310.2 L1601.0 308.0 L1602.0 305.7 L1603.0 303.6 L1604.0 301.4 L1605.0 299.3 L1606.0 297.1 L1607.0 295.1 L1608.0 293.0 L1609.0 291.0 L1610.0 289.0 L1611.0 287.0 L1612.0 285.1 L1613.0 283.2 L1614.0 281.4 L1615.0 279.5 L1616.0 277.8 L1617.0 276.0 L1618.0 274.3 L1619.0 272.7 L1620.0 271.1 L1621.0 269.5 L1622.0 268.0 L1623.0 266.5 L1624.0 265.1 L1625.0 263.7 L1626.0 262.4 L1627.0 261.1 L1628.0 259.8 L1629.0 258.7 L1630.0 257.5 L1631.0 256.4 L1632.0 255.4 L1633.0 254.4 L1634.0 253.5 L1635.0 252.6 L1636.0 251.8 L1637.0 251.1 L1638.0 250.4 L1639.0 249.7 L1640.0 249.1 L1641.0 248.6 L1642.0 248.1 L1643.0 247.7 L1644.0 247.3 L1645.0 247.0 L1646.0 246.7 L1647.0 246.5 L1648.0 246.4 L1649.0 246.3 L1650.0 246.2 L1651.0 246.3 L1652.0 246.3 L1653.0 246.5 L1654.0 246.7 L1655.0 246.9 L1656.0 247.2 L1657.0 247.6 L1658.0 248.0 L1659.0 248.4 L1660.0 249.0 L1661.0 249.5 L1662.0 250.2 L1663.0 250.8 L1664.0 251.6 L1665.0 252.3 L1666.0 253.2 L1667.0 254.1 L1668.0 255.0 L1669.0 256.0 L1670.0 257.0 L1671.0 258.1 L1672.0 259.2 L1673.0 260.4 L1674.0 261.6 L1675.0 262.9 L1676.0 264.2 L1677.0 265.5 L1678.0 266.9 L1679.0 268.4 L1680.0 269.8 L1681.0 271.4 L1682.0 272.9 L1683.0 274.5 L1684.0 276.2 L1685.0 277.9 L1686.0 279.6 L1687.0 281.3 L1688.0 283.1 L1689.0 285.0 L1690.0 286.8 L1691.0 288.7 L1692.0 290.6 L1693.0 292.6 L1694.0 294.6 L1695.0 296.6 L1696.0 298.6 L1697.0 300.7 L1698.0 302.8 L1699.0 304.9 L1700.0 307.1 L1701.0 309.3 L1702.0 311.5 L1703.0 313.7 L1704.0 315.9 L1705.0 318.2 L1706.0 320.5 L1707.0 322.8 L1708.0 325.1 L1709.0 327.5 L1710.0 329.8 L1711.0 332.2 L1712.0 334.6 L1713.0 337.0 L1714.0 339.4 L1715.0 341.8 L1716.0 344.3 L1717.0 346.7 L1718.0 349.2 L1719.0 351.7 L1720.0 354.2 L1721.0 356.7 L1722.0 359.1 L1723.0 361.6 L1724.0 364.2 L1725.0 366.7 L1726.0 369.2 L1727.0 371.7 L1728.0 374.2 L1729.0 376.8 L1730.0 379.3 L1731.0 381.8 L1732.0 384.3 L1733.0 386.9 L1734.0 389.4 L1735.0 391.9 L1736.0 394.4 L1737.0 397.0 L1738.0 399.5 L1739.0 402.0 L1740.0 404.5 L1741.0 407.0 L1742.0 409.5 L1743.0 412.0 L1744.0 414.5 L1745.0 416.9 L1746.0 419.4 L1747.0 421.9 L1748.0 424.3 L1749.0 426.7 L1750.0 429.2 L1751.0 431.6 L1752.0 434.0 L1753.0 436.4 L1754.0 438.8 L1755.0 441.1 L1756.0 443.5 L1757.0 445.9 L1758.0 448.2 L1759.0 450.5 L1760.0 452.8 L1761.0 455.1 L1762.0 457.4 L1763.0 459.7 L1764.0 461.9 L1765.0 464.1 L1766.0 466.4 L1767.0 468.6 L1768.0 470.8 L1769.0 472.9 L1770.0 475.1 L1771.0 477.2 L1772.0 479.3 L1773.0 481.4 L1774.0 483.5 L1775.0 485.6 L1776.0 487.7 L1777.0 489.7 L1778.0 491.7 L1779.0 493.7 L1780.0 495.7 L1781.0 497.7 L1782.0 499.6 L1783.0 501.5 L1784.0 503.4 L1785.0 505.3 L1786.0 507.2 L1787.0 509.1 L1788.0 510.9 L1789.0 512.7 L1790.0 514.5 L1791.0 516.3 L1792.0 518.0 L1793.0 519.8 L1794.0 521.5 L1795.0 523.2 L1796.0 524.9 L1797.0 526.5 L1798.0 528.2 L1799.0 529.8 L1800.0 531.4 L1801.0 533.0 L1802.0 534.6 L1803.0 536.1 L1804.0 537.7 L1805.0 539.2 L1806.0 540.7 L1807.0 542.2 L1808.0 543.6 L1809.0 545.1 L1810.0 546.5 L1811.0 547.9 L1812.0 549.3 L1813.0 550.6 L1814.0 552.0 L1815.0 553.3 L1816.0 554.6 L1817.0 555.9 L1818.0 557.2 L1819.0 558.5 L1820.0 559.7 L1821.0 560.9 L1822.0 562.2 L1823.0 563.3 L1824.0 564.5 L1825.0 565.7 L1826.0 566.8 L1827.0 567.9 L1828.0 569.1 L1829.0 570.2 L1830.0 571.2 L1831.0 572.3 L1832.0 573.3 L1833.0 574.4 L1834.0 575.4 L1835.0 576.4 L1836.0 577.4 L1837.0 578.3 L1838.0 579.3 L1839.0 580.2 L1840.0 581.2 L1841.0 582.1 L1842.0 583.0 L1843.0 583.8 L1844.0 584.7 L1845.0 585.6 L1846.0 586.4 L1847.0 587.2 L1848.0 588.1 L1849.0 588.9 L1850.0 589.6 L1851.0 590.4 L1852.0 591.2 L1853.0 591.9 L1854.0 592.7 L1855.0 593.4 L1856.0 594.1 L1857.0 594.8 L1858.0 595.5 L1859.0 596.2 L1860.0 596.8 L1861.0 597.5 L1862.0 598.1 L1863.0 598.8 L1864.0 599.4 L1865.0 600.0 L1866.0 600.6 L1867.0 601.2 L1868.0 601.7 L1869.0 602.3 L1870.0 602.9 L1871.0 603.4 L1872.0 604.0 L1873.0 604.5 L1874.0 605.0 L1875.0 605.5 L1876.0 606.0 L1877.0 606.5 L1878.0 607.0 L1879.0 607.5 L1880.0 607.9 L1881.0 608.4 L1882.0 608.8 L1883.0 609.3 L1884.0 609.7 L1885.0 610.1 L1886.0 610.5 L1887.0 610.9 L1888.0 611.3 L1889.0 611.7 L1890.0 612.1 L1891.0 612.5 L1892.0 612.8 L1893.0 613.2 L1894.0 613.6 L1895.0 613.9 L1896.0 614.3 L1897.0 614.6 L1898.0 614.9 L1899.0 615.2 L1900.0 615.6 L1901.0 615.9 L1902.0 616.2 L1903.0 616.5 L1904.0 616.7 L1905.0 617.0 L1906.0 617.3 L1907.0 617.6 L1908.0 617.9 L1909.0 618.1 L1910.0 618.4 L1911.0 618.6 L1912.0 618.9 L1913.0 619.1 L1914.0 619.4 L1915.0 619.6 L1916.0 619.8 L1917.0 620.0 L1918.0 620.3 L1919.0 620.5 L1920.0 620.7 L1921.0 620.9 L1922.0 621.1 L1923.0 621.3 L1924.0 621.5 L1925.0 621.7 L1926.0 621.8 L1927.0 622.0 L1928.0 622.2 L1929.0 622.4 L1930.0 622.5 L1931.0 622.7 L1932.0 622.9 L1933.0 623.0 L1934.0 623.2 L1935.0 623.3 L1936.0 623.5 L1937.0 623.6 L1938.0 623.8 L1939.0 623.9 L1940.0 624.0 L1941.0 624.2 L1942.0 624.3 L1943.0 624.4 L1944.0 624.6 L1945.0 624.7 L1946.0 624.8 L1947.0 624.9 L1948.0 625.0 L1949.0 625.1 L1950.0 625.3 L1951.0 625.4 L1952.0 625.5 L1953.0 625.6 L1954.0 625.7 L1955.0 625.8 L1956.0 625.9 L1957.0 625.9 L1958.0 626.0 L1959.0 626.1 L1960.0 626.2 L1961.0 626.3 L1962.0 626.4 L1963.0 626.5 L1964.0 626.5 L1965.0 626.6 L1966.0 626.7 L1967.0 626.8 L1968.0 626.8 L1969.0 626.9 L1970.0 627.0 L1971.0 627.1 L1972.0 627.1 L1973.0 627.2 L1974.0 627.2 L1975.0 627.3 L1976.0 627.4" stroke="#333333"/>
<path d="M1230.0 628.7 L1231.0 628.6 L1232.0 628.5 L1233.0 628.4 L1234.0 628.3 L1235.0 628.2 L1236.0 628.0 L1237.0 627.9 L1238.0 627.7 L1239.0 627.5 L1240.0 627.3 L1241.0 627.1 L1242.0 626.9 L1243.0 626.7 L1244.0 626.4 L1245.0 626.2 L1246.0 625.9 L1247.0 625.6 L1248.0 625.3 L1249.0 624.9 L1250.0 624.5 L1251.0 624.2 L1252.0 623.7 L1253.0 623.3 L1254.0 622.8 L1255.0 622.3 L1256.0 621.8 L1257.0 621.3 L1258.0 620.7 L1259.0 620.1 L1260.0 619.4 L1261.0 618.7 L1262.0 618.0 L1263.0 617.3 L1264.0 616.5 L1265.0 615.6 L1266.0 614.7 L1267.0 613.8 L1268.0 612.8 L1269.0 611.8 L1270.0 610.8 L1271.0 609.6 L1272.0 608.5 L1273.0 607.3 L1274.0 606.0 L1275.0 604.7 L1276.0 603.3 L1277.0 601.8 L1278.0 600.3 L1279.0 598.8 L1280.0 597.2 L1281.0 595.5 L1282.0 593.7 L1283.0 591.9 L1284.0 590.0 L1285.0 588.1 L1286.0 586.1 L1287.0 584.0 L1288.0 581.8 L1289.0 579.6 L1290.0 577.3 L1291.0 574.9 L1292.0 572.5 L1293.0 570.0 L1294.0 567.4 L1295.0 564.7 L1296.0 561.9 L1297.0 559.1 L1298.0 556.2 L1299.0 553.3 L1300.0 550.2 L1301.0 547.1 L1302.0 543.9 L1303.0 540.6 L1304.0 537.3 L1305.0 533.9 L1306.0 530.4 L1307.0 526.8 L1308.0 523.2 L1309.0 519.5 L1310.0 515.7 L1311.0 511.8 L1312.0 507.9 L1313.0 503.9 L1314.0 499.9 L1315.0 495.8 L1316.0 491.6 L1317.0 487.4 L1318.0 483.1 L1319.0 478.8 L1320.0 474.4 L1321.0 470.0 L1322.0 465.5 L1323.0 460.9 L1324.0 456.4 L1325.0 451.7 L1326.0 447.1 L1327.0 442.4 L1328.0 437.7 L1329.0 432.9 L1330.0 428.1 L1331.0 423.3 L1332.0 418.4 L1333.0 413.6 L1334.0 408.7 L1335.0 403.8 L1336.0 398.9 L1337.0 394.0 L1338.0 389.1 L1339.0 384.2 L1340.0 379.3 L1341.0 374.4 L1342.0 369.5 L1343.0 364.6 L1344.0 359.7 L1345.0 354.8 L1346.0 350.0 L1347.0 345.1 L1348.0 340.3 L1349.0 335.5 L1350.0 330.8 L1351.0 326.1 L1352.0 321.4 L1353.0 316.7 L1354.0 312.1 L1355.0 307.5 L1356.0 303.0 L1357.0 298.5 L1358.0 294.1 L1359.0 289.7 L1360.0 285.4 L1361.0 281.1 L1362.0 276.8 L1363.0 272.7 L1364.0 268.6 L1365.0 264.5 L1366.0 260.5 L1367.0 256.6 L1368.0 252.7 L1369.0 248.9 L1370.0 245.2 L1371.0 241.5 L1372.0 237.9 L1373.0 234.4 L1374.0 230.9 L1375.0 227.5 L1376.0 224.2 L1377.0 220.9 L1378.0 217.8 L1379.0 214.7 L1380.0 211.7 L1381.0 208.7 L1382.0 205.8 L1383.0 203.0 L1384.0 200.3 L1385.0 197.7 L1386.0 195.1 L1387.0 192.7 L1388.0 190.3 L1389.0 187.9 L1390.0 185.7 L1391.0 183.6 L1392.0 181.5 L1393.0 179.5 L1394.0 177.6 L1395.0 175.8 L1396.0 174.0 L1397.0 172.4 L1398.0 170.8 L1399.0 169.4 L1400.0 168.0 L1401.0 166.7 L1402.0 165.5 L1403.0 164.4 L1404.0 163.4 L1405.0 162.4 L1406.0 161.6 L1407.0 160.9 L1408.0 160.2 L1409.0 159.7 L1410.0 159.2 L1411.0 158.8 L1412.0 158.6 L1413.0 158.4 L1414.0 158.4 L1415.0 158.4 L1416.0 158.6 L1417.0 158.8 L1418.0 159.1 L1419.0 159.6 L1420.0 160.1 L1421.0 160.8 L1422.0 161.5 L1423.0 162.4 L1424.0 163.4 L1425.0 164.4 L1426.0 165.6 L1427.0 166.9 L1428.0 168.3 L1429.0 169.7 L1430.0 171.3 L1431.0 173.0 L1432.0 174.8 L1433.0 176.7 L1434.0 178.7 L1435.0 180.8 L1436.0 182.9 L1437.0 185.2 L1438.0 187.6 L1439.0 190.1 L1440.0 192.6 L1441.0 195.3 L1442.0 198.0 L1443.0 200.8 L1444.0 203.7 L1445.0 206.7 L1446.0 209.8 L1447.0 212.9 L1448.0 216.1 L1449.0 219.4 L1450.0 222.8 L1451.0 226.2 L1452.0 229.7 L1453.0 233.2 L1454.0 236.8 L1455.0 240.5 L1456.0 244.1 L1457.0 247.9 L1458.0 251.7 L1459.0 255.5 L1460.0 259.4 L1461.0 263.3 L1462.0 267.2 L1463.0 271.1 L1464.0 275.1 L1465.0 279.1 L1466.0 283.1 L1467.0 287.1 L1468.0 291.1 L1469.0 295.1 L1470.0 299.1 L1471.0 303.1 L1472.0 307.1 L1473.0 311.1 L1474.0 315.1 L1475.0 319.0 L1476.0 322.9 L1477.0 326.8 L1478.0 330.7 L1479.0 334.5 L1480.0 338.3 L1481.0 342.1 L1482.0 345.8 L1483.0 349.5 L1484.0 353.1 L1485.0 356.7 L1486.0 360.2 L1487.0 363.7 L1488.0 367.1 L1489.0 370.4 L1490.0 373.7 L1491.0 376.9 L1492.0 380.0 L1493.0 383.1 L1494.0 386.1 L1495.0 389.0 L1496.0 391.8 L1497.0 394.6 L1498.0 397.3 L1499.0 399.9 L1500.0 402.4 L1501.0 404.8 L1502.0 407.2 L1503.0 409.4 L1504.0 411.6 L1505.0 413.7 L1506.0 415.7 L1507.0 417.6 L1508.0 419.4 L1509.0 421.1 L1510.0 422.8 L1511.0 424.3 L1512.0 425.8 L1513.0 427.2 L1514.0 428.4 L1515.0 429.6 L1516.0 430.7 L1517.0 431.7 L1518.0 432.6 L1519.0 433.4 L1520.0 434.2 L1521.0 434.8 L1522.0 435.4 L1523.0 435.9 L1524.0 436.2 L1525.0 436.5 L1526.0 436.7 L1527.0 436.9 L1528.0 436.9 L1529.0 436.9 L1530.0 436.8 L1531.0 436.6 L1532.0 436.3 L1533.0 435.9 L1534.0 435.5 L1535.0 435.0 L1536.0 434.4 L1537.0 433.7 L1538.0 433.0 L1539.0 432.2 L1540.0 431.4 L1541.0 430.4 L1542.0 429.4 L1543.0 428.4 L1544.0 427.3 L1545.0 426.1 L1546.0 424.8 L1547.0 423.5 L1548.0 422.2 L1549.0 420.8 L1550.0 419.3 L1551.0 417.8 L1552.0 416.2 L1553.0 414.6 L1554.0 413.0 L1555.0 411.3 L1556.0 409.5 L1557.0 407.7 L1558.0 405.9 L1559.0 404.1 L1560.0 402.2 L1561.0 400.2 L1562.0 398.3 L1563.0 396.3 L1564.0 394.3 L1565.0 392.2 L1566.0 390.1 L1567.0 388.0 L1568.0 385.9 L1569.0 383.8 L1570.0 381.6 L1571.0 379.4 L1572.0 377.2 L1573.0 375.0 L1574.0 372.8 L1575.0 370.5 L1576.0 368.3 L1577.0 366.1 L1578.0 363.8 L1579.0 361.5 L1580.0 359.3 L1581.0 357.0 L1582.0 354.7 L1583.0 352.5 L1584.0 350.2 L1585.0 348.0 L1586.0 345.7 L1587.0 343.5 L1588.0 341.2 L1589.0 339.0 L1590.0 336.8 L1591.0 334.6 L1592.0 332.4 L1593.0 330.3 L1594.0 328.1 L1595.0 326.0 L1596.0 323.9 L1597.0 321.8 L1598.0 319.7 L1599.0 317.7 L1600.0 315.7 L1601.0 313.7 L1602.0 311.7 L1603.0 309.8 L1604.0 307.9 L1605.0 306.0 L1606.0 304.2 L1607.0 302.3 L1608.0 300.6 L1609.0 298.8 L1610.0 297.1 L1611.0 295.4 L1612.0 293.8 L1613.0 292.2 L1614.0 290.7 L1615.0 289.1 L1616.0 287.7 L1617.0 286.2 L1618.0 284.8 L1619.0 283.5 L1620.0 282.2 L1621.0 280.9 L1622.0 279.7 L1623.0 278.5 L1624.0 277.4 L1625.0 276.3 L1626.0 275.3 L1627.0 274.3 L1628.0 273.4 L1629.0 272.5 L1630.0 271.6 L1631.0 270.9 L1632.0 270.1 L1633.0 269.4 L1634.0 268.8 L1635.0 268.2 L1636.0 267.6 L1637.0 267.1 L1638.0 266.7 L1639.0 266.3 L1640.0 266.0 L1641.0 265.7 L1642.0 265.4 L1643.0 265.3 L1644.0 265.1 L1645.0 265.0 L1646.0 265.0 L1647.0 265.0 L1648.0 265.1 L1649.0 265.2 L1650.0 265.4 L1651.0 265.6 L1652.0 265.8 L1653.0 266.2 L1654.0 266.5 L1655.0 266.9 L1656.0 267.4 L1657.0 267.9 L1658.0 268.5 L1659.0 269.1 L1660.0 269.7 L1661.0 270.4 L1662.0 271.2 L1663.0 272.0 L1664.0 272.8 L1665.0 273.7 L1666.0 274.6 L1667.0 275.6 L1668.0 276.6 L1669.0 277.7 L1670.0 278.8 L1671.0 279.9 L1672.0 281.1 L1673.0 282.4 L1674.0 283.6 L1675.0 284.9 L1676.0 286.3 L1677.0 287.7 L1678.0 289.1 L1679.0 290.5 L1680.0 292.0 L1681.0 293.6 L1682.0 295.1 L1683.0 296.7 L1684.0 298.4 L1685.0 300.0 L1686.0 301.7 L1687.0 303.4 L1688.0 305.2 L1689.0 307.0 L1690.0 308.8 L1691.0 310.7 L1692.0 312.5 L1693.0 314.4 L1694.0 316.3 L1695.0 318.3 L1696.0 320.3 L1697.0 322.3 L1698.0 324.3 L1699.0 326.3 L1700.0 328.4 L1701.0 330.5 L1702.0 332.6 L1703.0 334.7 L1704.0 336.8 L1705.0 339.0 L1706.0 341.2 L1707.0 343.4 L1708.0 345.6 L1709.0 347.8 L1710.0 350.0 L1711.0 352.3 L1712.0 354.5 L1713.0 356.8 L1714.0 359.1 L1715.0 361.4 L1716.0 363.7 L1717.0 366.0 L1718.0 368.3 L1719.0 370.6 L1720.0 373.0 L1721.0 375.3 L1722.0 377.7 L1723.0 380.0 L1724.0 382.4 L1725.0 384.7 L1726.0 387.1 L1727.0 389.4 L1728.0 391.8 L1729.0 394.2 L1730.0 396.5 L1731.0 398.9 L1732.0 401.2 L1733.0 403.6 L1734.0 406.0 L1735.0 408.3 L1736.0 410.7 L1737.0 413.0 L1738.0 415.4 L1739.0 417.7 L1740.0 420.0 L1741.0 422.4 L1742.0 424.7 L1743.0 427.0 L1744.0 429.3 L1745.0 431.6 L1746.0 433.9 L1747.0 436.2 L1748.0 438.5 L1749.0 440.7 L1750.0 443.0 L1751.0 445.2 L1752.0 447.5 L1753.0 449.7 L1754.0 451.9 L1755.0 454.1 L1756.0 456.3 L1757.0 458.5 L1758.0 460.7 L1759.0 462.8 L1760.0 465.0 L1761.0 467.1 L1762.0 469.2 L1763.0 471.3 L1764.0 473.4 L1765.0 475.5 L1766.0 477.5 L1767.0 479.6 L1768.0 481.6 L1769.0 483.6 L1770.0 485.6 L1771.0 487.6 L1772.0 489.6 L1773.0 491.5 L1774.0 493.4 L1775.0 495.4 L1776.0 497.3 L1777.0 499.2 L1778.0 501.0 L1779.0 502.9 L1780.0 504.7 L1781.0 506.5 L1782.0 508.3 L1783.0 510.1 L1784.0 511.9 L1785.0 513.7 L1786.0 515.4 L1787.0 517.1 L1788.0 518.8 L1789.0 520.5 L1790.0 522.2 L1791.0 523.8 L1792.0 525.4 L1793.0 527.1 L1794.0 528.7 L1795.0 530.2 L1796.0 531.8 L1797.0 533.3 L1798.0 534.9 L1799.0 536.4 L1800.0 537.9 L1801.0 539.4 L1802.0 540.8 L1803.0 542.2 L1804.0 543.7 L1805.0 545.1 L1806.0 546.5 L1807.0 547.8 L1808.0 549.2 L1809.0 550.5 L1810.0 551.9 L1811.0 553.2 L1812.0 554.4 L1813.0 555.7 L1814.0 557.0 L1815.0 558.2 L1816.0 559.4 L1817.0 560.6 L1818.0 561.8 L1819.0 563.0 L1820.0 564.2 L1821.0 565.3 L1822.0 566.4 L1823.0 567.5 L1824.0 568.6 L1825.0 569.7 L1826.0 570.8 L1827.0 571.8 L1828.0 572.9 L1829.0 573.9 L1830.0 574.9 L1831.0 575.9 L1832.0 576.8 L1833.0 577.8 L1834.0 578.7 L1835.0 579.7 L1836.0 580.6 L1837.0 581.5 L1838.0 582.4 L1839.0 583.3 L1840.0 584.1 L1841.0 585.0 L1842.0 585.8 L1843.0 586.6 L1844.0 587.4 L1845.0 588.2 L1846.0 589.0 L1847.0 589.8 L1848.0 590.6 L1849.0 591.3 L1850.0 592.0 L1851.0 592.8 L1852.0 593.5 L1853.0 594.2 L1854.0 594.9 L1855.0 595.5 L1856.0 596.2 L1857.0 596.9 L1858.0 597.5 L1859.0 598.1 L1860.0 598.8 L1861.0 599.4 L1862.0 600.0 L1863.0 600.6 L1864.0 601.1 L1865.0 601.7 L1866.0 602.3 L1867.0 602.8 L1868.0 603.4 L1869.0 603.9 L1870.0 604.4 L1871.0 604.9 L1872.0 605.4 L1873.0 605.9 L1874.0 606.4 L1875.0 606.9 L1876.0 607.4 L1877.0 607.8 L1878.0 608.3 L1879.0 608.7 L1880.0 609.1 L1881.0 609.6 L1882.0 610.0 L1883.0 610.4 L1884.0 610.8 L1885.0 611.2 L1886.0 611.6 L1887.0 612.0 L1888.0 612.3 L1889.0 612.7 L1890.0 613.1 L1891.0 613.4 L1892.0 613.8 L1893.0 614.1 L1894.0 614.4 L1895.0 614.8 L1896.0 615.1 L1897.0 615.4 L1898.0 615.7 L1899.0 616.0 L1900.0 616.3 L1901.0 616.6 L1902.0 616.9 L1903.0 617.2 L1904.0 617.4 L1905.0 617.7 L1906.0 618.0 L1907.0 618.2 L1908.0 618.5 L1909.0 618.7 L1910.0 619.0 L1911.0 619.2 L1912.0 619.4 L1913.0 619.7 L1914.0 619.9 L1915.0 620.1 L1916.0 620.3 L1917.0 620.5 L1918.0 620.7 L1919.0 620.9 L1920.0 621.1 L1921.0 621.3 L1922.0 621.5 L1923.0 621.7 L1924.0 621.9 L1925.0 622.1 L1926.0 622.2 L1927.0 622.4 L1928.0 622.6 L1929.0 622.7 L1930.0 622.9 L1931.0 623.1 L1932.0 623.2 L1933.0 623.4 L1934.0 623.5 L1935.0 623.6 L1936.0 623.8 L1937.0 623.9 L1938.0 624.1 L1939.0 624.2 L1940.0 624.3 L1941.0 624.4 L1942.0 624.6 L1943.0 624.7 L1944.0 624.8 L1945.0 624.9 L1946.0 625.0 L1947.0 625.1 L1948.0 625.3 L1949.0 625.4 L1950.0 625.5 L1951.0 625.6 L1952.0 625.7 L1953.0 625.8 L1954.0 625.9 L1955.0 625.9 L1956.0 626.0 L1957.0 626.1 L1958.0 626.2 L1959.0 626.3 L1960.0 626.4 L1961.0 626.5 L1962.0 626.5 L1963.0 626.6 L1964.0 626.7 L1965.0 626.8 L1966.0 626.8 L1967.0 626.9 L1968.0 627.0 L1969.0 627.0 L1970.0 627.1 L1971.0 627.2 L1972.0 627.2 L1973.0 627.3 L1974.0 627.4 L1975.0 627.4 L1976.0 627.5" stroke="#E82424"/>
<path d="M1230.0 629.6 L1231.0 629.6 L1232.0 629.6 L1233.0 629.5 L1234.0 629.5 L1235.0 629.4 L1236.0 629.4 L1237.0 629.3 L1238.0 629.3 L1239.0 629.2 L1240.0 629.1 L1241.0 629.0 L1242.0 628.9 L1243.0 628.8 L1244.0 628.7 L1245.0 628.5 L1246.0 628.4 L1247.0 628.2 L1248.0 628.0 L1249.0 627.8 L1250.0 627.6 L1251.0 627.3 L1252.0 627.0 L1253.0 626.7 L1254.0 626.4 L1255.0 626.0 L1256.0 625.6 L1257.0 625.2 L1258.0 624.7 L1259.0 624.2 L1260.0 623.7 L1261.0 623.1 L1262.0 622.4 L1263.0 621.8 L1264.0 621.0 L1265.0 620.3 L1266.0 619.4 L1267.0 618.6 L1268.0 617.6 L1269.0 616.7 L1270.0 615.6 L1271.0 614.5 L1272.0 613.4 L1273.0 612.2 L1274.0 610.9 L1275.0 609.6 L1276.0 608.2 L1277.0 606.8 L1278.0 605.3 L1279.0 603.8 L1280.0 602.2 L1281.0 600.5 L1282.0 598.8 L1283.0 597.0 L1284.0 595.2 L1285.0 593.3 L1286.0 591.4 L1287.0 589.4 L1288.0 587.4 L1289.0 585.3 L1290.0 583.1 L1291.0 581.0 L1292.0 578.7 L1293.0 576.4 L1294.0 574.1 L1295.0 571.7 L1296.0 569.3 L1297.0 566.8 L1298.0 564.2 L1299.0 561.6 L1300.0 559.0 L1301.0 556.3 L1302.0 553.6 L1303.0 550.8 L1304.0 547.9 L1305.0 545.0 L1306.0 542.1 L1307.0 539.0 L1308.0 536.0 L1309.0 532.8 L1310.0 529.6 L1311.0 526.3 L1312.0 523.0 L1313.0 519.6 L1314.0 516.2 L1315.0 512.6 L1316.0 509.0 L1317.0 505.4 L1318.0 501.6 L1319.0 497.8 L1320.0 493.9 L1321.0 490.0 L1322.0 486.0 L1323.0 481.9 L1324.0 477.7 L1325.0 473.5 L1326.0 469.2 L1327.0 464.8 L1328.0 460.4 L1329.0 455.9 L1330.0 451.3 L1331.0 446.7 L1332.0 442.1 L1333.0 437.4 L1334.0 432.6 L1335.0 427.8 L1336.0 422.9 L1337.0 418.0 L1338.0 413.1 L1339.0 408.1 L1340.0 403.1 L1341.0 398.1 L1342.0 393.0 L1343.0 388.0 L1344.0 382.9 L1345.0 377.8 L1346.0 372.7 L1347.0 367.6 L1348.0 362.5 L1349.0 357.4 L1350.0 352.4 L1351.0 347.3 L1352.0 342.2 L1353.0 337.2 L1354.0 332.2 L1355.0 327.2 L1356.0 322.3 L1357.0 317.3 L1358.0 312.5 L1359.0 307.6 L1360.0 302.8 L1361.0 298.1 L1362.0 293.4 L1363.0 288.7 L1364.0 284.1 L1365.0 279.5 L1366.0 275.1 L1367.0 270.6 L1368.0 266.3 L1369.0 262.0 L1370.0 257.7 L1371.0 253.6 L1372.0 249.5 L1373.0 245.4 L1374.0 241.5 L1375.0 237.6 L1376.0 233.8 L1377.0 230.1 L1378.0 226.5 L1379.0 223.0 L1380.0 219.5 L1381.0 216.1 L1382.0 212.8 L1383.0 209.7 L1384.0 206.6 L1385.0 203.6 L1386.0 200.6 L1387.0 197.8 L1388.0 195.1 L1389.0 192.5 L1390.0 190.0 L1391.0 187.6 L1392.0 185.3 L1393.0 183.1 L1394.0 181.0 L1395.0 179.0 L1396.0 177.2 L1397.0 175.4 L1398.0 173.8 L1399.0 172.2 L1400.0 170.8 L1401.0 169.5 L1402.0 168.3 L1403.0 167.3 L1404.0 166.3 L1405.0 165.5 L1406.0 164.8 L1407.0 164.2 L1408.0 163.7 L1409.0 163.4 L1410.0 163.1 L1411.0 163.0 L1412.0 163.0 L1413.0 163.2 L1414.0 163.4 L1415.0 163.8 L1416.0 164.3 L1417.0 164.9 L1418.0 165.7 L1419.0 166.5 L1420.0 167.5 L1421.0 168.6 L1422.0 169.8 L1423.0 171.1 L1424.0 172.5 L1425.0 174.0 L1426.0 175.7 L1427.0 177.4 L1428.0 179.3 L1429.0 181.2 L1430.0 183.3 L1431.0 185.5 L1432.0 187.7 L1433.0 190.1 L1434.0 192.5 L1435.0 195.0 L1436.0 197.7 L1437.0 200.4 L1438.0 203.2 L1439.0 206.0 L1440.0 209.0 L1441.0 212.0 L1442.0 215.1 L1443.0 218.3 L1444.0 221.5 L1445.0 224.8 L1446.0 228.2 L1447.0 231.6 L1448.0 235.0 L1449.0 238.5 L1450.0 242.1 L1451.0 245.7 L1452.0 249.4 L1453.0 253.0 L1454.0 256.8 L1455.0 260.5 L1456.0 264.3 L1457.0 268.1 L1458.0 271.9 L1459.0 275.7 L1460.0 279.6 L1461.0 283.5 L1462.0 287.4 L1463.0 291.2 L1464.0 295.1 L1465.0 299.0 L1466.0 302.9 L1467.0 306.8 L1468.0 310.7 L1469.0 314.5 L1470.0 318.4 L1471.0 322.2 L1472.0 326.0 L1473.0 329.8 L1474.0 333.6 L1475.0 337.3 L1476.0 341.0 L1477.0 344.7 L1478.0 348.3 L1479.0 351.9 L1480.0 355.5 L1481.0 359.0 L1482.0 362.5 L1483.0 365.9 L1484.0 369.3 L1485.0 372.6 L1486.0 375.8 L1487.0 379.1 L1488.0 382.2 L1489.0 385.3 L1490.0 388.4 L1491.0 391.4 L1492.0 394.3 L1493.0 397.1 L1494.0 399.9 L1495.0 402.6 L1496.0 405.3 L1497.0 407.9 L1498.0 410.4 L1499.0 412.8 L1500.0 415.2 L1501.0 417.5 L1502.0 419.7 L1503.0 421.8 L1504.0 423.9 L1505.0 425.8 L1506.0 427.8 L1507.0 429.6 L1508.0 431.3 L1509.0 433.0 L1510.0 434.6 L1511.0 436.1 L1512.0 437.5 L1513.0 438.8 L1514.0 440.1 L1515.0 441.3 L1516.0 442.4 L1517.0 443.4 L1518.0 444.3 L1519.0 445.2 L1520.0 445.9 L1521.0 446.6 L1522.0 447.2 L1523.0 447.7 L1524.0 448.2 L1525.0 448.5 L1526.0 448.8 L1527.0 449.0 L1528.0 449.2 L1529.0 449.2 L1530.0 449.2 L1531.0 449.1 L1532.0 448.9 L1533.0 448.6 L1534.0 448.3 L1535.0 447.9 L1536.0 447.4 L1537.0 446.9 L1538.0 446.3 L1539.0 445.6 L1540.0 444.8 L1541.0 444.0 L1542.0 443.1 L1543.0 442.2 L1544.0 441.2 L1545.0 440.1 L1546.0 439.0 L1547.0 437.8 L1548.0 436.5 L1549.0 435.2 L1550.0 433.8 L1551.0 432.4 L1552.0 430.9 L1553.0 429.4 L1554.0 427.8 L1555.0 426.2 L1556.0 424.6 L1557.0 422.8 L1558.0 421.1 L1559.0 419.3 L1560.0 417.5 L1561.0 415.6 L1562.0 413.7 L1563.0 411.7 L1564.0 409.8 L1565.0 407.8 L1566.0 405.7 L1567.0 403.6 L1568.0 401.6 L1569.0 399.4 L1570.0 397.3 L1571.0 395.1 L1572.0 392.9 L1573.0 390.8 L1574.0 388.5 L1575.0 386.3 L1576.0 384.1 L1577.0 381.8 L1578.0 379.5 L1579.0 377.3 L1580.0 375.0 L1581.0 372.7 L1582.0 370.4 L1583.0 368.2 L1584.0 365.9 L1585.0 363.6 L1586.0 361.3 L1587.0 359.1 L1588.0 356.8 L1589.0 354.5 L1590.0 352.3 L1591.0 350.1 L1592.0 347.8 L1593.0 345.6 L1594.0 343.5 L1595.0 341.3 L1596.0 339.1 L1597.0 337.0 L1598.0 334.9 L1599.0 332.8 L1600.0 330.8 L1601.0 328.8 L1602.0 326.8 L1603.0 324.8 L1604.0 322.8 L1605.0 320.9 L1606.0 319.1 L1607.0 317.2 L1608.0 315.4 L1609.0 313.6 L1610.0 311.9 L1611.0 310.2 L1612.0 308.5 L1613.0 306.9 L1614.0 305.3 L1615.0 303.8 L1616.0 302.3 L1617.0 300.8 L1618.0 299.4 L1619.0 298.1 L1620.0 296.8 L1621.0 295.5 L1622.0 294.3 L1623.0 293.1 L1624.0 292.0 L1625.0 290.9 L1626.0 289.9 L1627.0 288.9 L1628.0 287.9 L1629.0 287.1 L1630.0 286.2 L1631.0 285.5 L1632.0 284.7 L1633.0 284.1 L1634.0 283.4 L1635.0 282.9 L1636.0 282.4 L1637.0 281.9 L1638.0 281.5 L1639.0 281.1 L1640.0 280.8 L1641.0 280.6 L1642.0 280.4 L1643.0 280.2 L1644.0 280.1 L1645.0 280.1 L1646.0 280.1 L1647.0 280.2 L1648.0 280.3 L1649.0 280.5 L1650.0 280.7 L1651.0 281.0 L1652.0 281.3 L1653.0 281.7 L1654.0 282.1 L1655.0 282.6 L1656.0 283.1 L1657.0 283.7 L1658.0 284.3 L1659.0 285.0 L1660.0 285.7 L1661.0 286.5 L1662.0 287.3 L1663.0 288.2 L1664.0 289.1 L1665.0 290.0 L1666.0 291.0 L1667.0 292.1 L1668.0 293.2 L1669.0 294.3 L1670.0 295.5 L1671.0 296.7 L1672.0 297.9 L1673.0 299.2 L1674.0 300.6 L1675.0 302.0 L1676.0 303.4 L1677.0 304.8 L1678.0 306.3 L1679.0 307.8 L1680.0 309.4 L1681.0 311.0 L1682.0 312.6 L1683.0 314.3 L1684.0 316.0 L1685.0 317.7 L1686.0 319.4 L1687.0 321.2 L1688.0 323.0 L1689.0 324.9 L1690.0 326.7 L1691.0 328.6 L1692.0 330.6 L1693.0 332.5 L1694.0 334.5 L1695.0 336.5 L1696.0 338.5 L1697.0 340.5 L1698.0 342.6 L1699.0 344.6 L1700.0 346.7 L1701.0 348.9 L1702.0 351.0 L1703.0 353.1 L1704.0 355.3 L1705.0 357.5 L1706.0 359.7 L1707.0 361.9 L1708.0 364.1 L1709.0 366.3 L1710.0 368.6 L1711.0 370.8 L1712.0 373.1 L1713.0 375.3 L1714.0 377.6 L1715.0 379.9 L1716.0 382.2 L1717.0 384.5 L1718.0 386.8 L1719.0 389.1 L1720.0 391.4 L1721.0 393.7 L1722.0 396.1 L1723.0 398.4 L1724.0 400.7 L1725.0 403.0 L1726.0 405.4 L1727.0 407.7 L1728.0 410.0 L1729.0 412.3 L1730.0 414.6 L1731.0 417.0 L1732.0 419.3 L1733.0 421.6 L1734.0 423.9 L1735.0 426.2 L1736.0 428.5 L1737.0 430.8 L1738.0 433.0 L1739.0 435.3 L1740.0 437.6 L1741.0 439.8 L1742.0 442.1 L1743.0 444.3 L1744.0 446.6 L1745.0 448.8 L1746.0 451.0 L1747.0 453.2 L1748.0 455.4 L1749.0 457.6 L1750.0 459.7 L1751.0 461.9 L1752.0 464.1 L1753.0 466.2 L1754.0 468.3 L1755.0 470.4 L1756.0 472.5 L1757.0 474.6 L1758.0 476.7 L1759.0 478.7 L1760.0 480.8 L1761.0 482.8 L1762.0 484.8 L1763.0 486.8 L1764.0 488.8 L1765.0 490.7 L1766.0 492.7 L1767.0 494.6 L1768.0 496.5 L1769.0 498.4 L1770.0 500.3 L1771.0 502.2 L1772.0 504.0 L1773.0 505.9 L1774.0 507.7 L1775.0 509.5 L1776.0 511.3 L1777.0 513.0 L1778.0 514.8 L1779.0 516.5 L1780.0 518.2 L1781.0 519.9 L1782.0 521.6 L1783.0 523.3 L1784.0 524.9 L1785.0 526.6 L1786.0 528.2 L1787.0 529.8 L1788.0 531.4 L1789.0 532.9 L1790.0 534.5 L1791.0 536.0 L1792.0 537.5 L1793.0 539.0 L1794.0 540.5 L1795.0 541.9 L1796.0 543.3 L1797.0 544.8 L1798.0 546.2 L1799.0 547.6 L1800.0 548.9 L1801.0 550.3 L1802.0 551.6 L1803.0 552.9 L1804.0 554.2 L1805.0 555.5 L1806.0 556.8 L1807.0 558.0 L1808.0 559.3 L1809.0 560.5 L1810.0 561.7 L1811.0 562.9 L1812.0 564.0 L1813.0 565.2 L1814.0 566.3 L1815.0 567.4 L1816.0 568.6 L1817.0 569.6 L1818.0 570.7 L1819.0 571.8 L1820.0 572.8 L1821.0 573.8 L1822.0 574.9 L1823.0 575.9 L1824.0 576.8 L1825.0 577.8 L1826.0 578.8 L1827.0 579.7 L1828.0 580.6 L1829.0 581.5 L1830.0 582.4 L1831.0 583.3 L1832.0 584.2 L1833.0 585.0 L1834.0 585.9 L1835.0 586.7 L1836.0 587.5 L1837.0 588.3 L1838.0 589.1 L1839.0 589.9 L1840.0 590.7 L1841.0 591.4 L1842.0 592.2 L1843.0 592.9 L1844.0 593.6 L1845.0 594.3 L1846.0 595.0 L1847.0 595.7 L1848.0 596.4 L1849.0 597.0 L1850.0 597.7 L1851.0 598.3 L1852.0 598.9 L1853.0 599.5 L1854.0 600.1 L1855.0 600.7 L1856.0 601.3 L1857.0 601.9 L1858.0 602.4 L1859.0 603.0 L1860.0 603.5 L1861.0 604.1 L1862.0 604.6 L1863.0 605.1 L1864.0 605.6 L1865.0 606.1 L1866.0 606.6 L1867.0 607.1 L1868.0 607.5 L1869.0 608.0 L1870.0 608.5 L1871.0 608.9 L1872.0 609.3 L1873.0 609.8 L1874.0 610.2 L1875.0 610.6 L1876.0 611.0 L1877.0 611.4 L1878.0 611.8 L1879.0 612.2 L1880.0 612.5 L1881.0 612.9 L1882.0 613.3 L1883.0 613.6 L1884.0 614.0 L1885.0 614.3 L1886.0 614.6 L1887.0 615.0 L1888.0 615.3 L1889.0 615.6 L1890.0 615.9 L1891.0 616.2 L1892.0 616.5 L1893.0 616.8 L1894.0 617.1 L1895.0 617.4 L1896.0 617.6 L1897.0 617.9 L1898.0 618.2 L1899.0 618.4 L1900.0 618.7 L1901.0 618.9 L1902.0 619.2 L1903.0 619.4 L1904.0 619.6 L1905.0 619.8 L1906.0 620.1 L1907.0 620.3 L1908.0 620.5 L1909.0 620.7 L1910.0 620.9 L1911.0 621.1 L1912.0 621.3 L1913.0 621.5 L1914.0 621.7 L1915.0 621.9 L1916.0 622.0 L1917.0 622.2 L1918.0 622.4 L1919.0 622.6 L1920.0 622.7 L1921.0 622.9 L1922.0 623.1 L1923.0 623.2 L1924.0 623.4 L1925.0 623.5 L1926.0 623.6 L1927.0 623.8 L1928.0 623.9 L1929.0 624.1 L1930.0 624.2 L1931.0 624.3 L1932.0 624.5 L1933.0 624.6 L1934.0 624.7 L1935.0 624.8 L1936.0 624.9 L1937.0 625.1 L1938.0 625.2 L1939.0 625.3 L1940.0 625.4 L1941.0 625.5 L1942.0 625.6 L1943.0 625.7 L1944.0 625.8 L1945.0 625.9 L1946.0 626.0 L1947.0 626.1 L1948.0 626.1 L1949.0 626.2 L1950.0 626.3 L1951.0 626.4 L1952.0 626.5 L1953.0 626.6 L1954.0 626.6 L1955.0 626.7 L1956.0 626.8 L1957.0 626.9 L1958.0 626.9 L1959.0 627.0 L1960.0 627.1 L1961.0 627.1 L1962.0 627.2 L1963.0 627.3 L1964.0 627.3 L1965.0 627.4 L1966.0 627.4 L1967.0 627.5 L1968.0 627.6 L1969.0 627.6 L1970.0 627.7 L1971.0 627.7 L1972.0 627.8 L1973.0 627.8 L1974.0 627.9 L1975.0 627.9 L1976.0 628.0" stroke="#1763DA"/>
<path d="M1230.0 629.3 L1231.0 629.2 L1232.0 629.1 L1233.0 629.1 L1234.0 629.0 L1235.0 628.9 L1236.0 628.8 L1237.0 628.7 L1238.0 628.6 L1239.0 628.5 L1240.0 628.4 L1241.0 628.2 L1242.0 628.1 L1243.0 627.9 L1244.0 627.7 L1245.0 627.5 L1246.0 627.3 L1247.0 627.1 L1248.0 626.9 L1249.0 626.6 L1250.0 626.3 L1251.0 626.0 L1252.0 625.7 L1253.0 625.4 L1254.0 625.0 L1255.0 624.6 L1256.0 624.2 L1257.0 623.8 L1258.0 623.3 L1259.0 622.8 L1260.0 622.3 L1261.0 621.7 L1262.0 621.1 L1263.0 620.5 L1264.0 619.8 L1265.0 619.1 L1266.0 618.4 L1267.0 617.6 L1268.0 616.8 L1269.0 615.9 L1270.0 615.0 L1271.0 614.0 L1272.0 613.0 L1273.0 611.9 L1274.0 610.8 L1275.0 609.7 L1276.0 608.4 L1277.0 607.2 L1278.0 605.8 L1279.0 604.5 L1280.0 603.0 L1281.0 601.5 L1282.0 600.0 L1283.0 598.3 L1284.0 596.6 L1285.0 594.9 L1286.0 593.1 L1287.0 591.2 L1288.0 589.2 L1289.0 587.2 L1290.0 585.1 L1291.0 583.0 L1292.0 580.8 L1293.0 578.5 L1294.0 576.1 L1295.0 573.7 L1296.0 571.2 L1297.0 568.6 L1298.0 565.9 L1299.0 563.2 L1300.0 560.4 L1301.0 557.5 L1302.0 554.6 L1303.0 551.6 L1304.0 548.5 L1305.0 545.4 L1306.0 542.2 L1307.0 538.9 L1308.0 535.5 L1309.0 532.1 L1310.0 528.6 L1311.0 525.0 L1312.0 521.4 L1313.0 517.7 L1314.0 514.0 L1315.0 510.2 L1316.0 506.3 L1317.0 502.4 L1318.0 498.4 L1319.0 494.3 L1320.0 490.2 L1321.0 486.1 L1322.0 481.8 L1323.0 477.6 L1324.0 473.3 L1325.0 468.9 L1326.0 464.5 L1327.0 460.1 L1328.0 455.6 L1329.0 451.0 L1330.0 446.5 L1331.0 441.9 L1332.0 437.2 L1333.0 432.6 L1334.0 427.9 L1335.0 423.1 L1336.0 418.4 L1337.0 413.6 L1338.0 408.8 L1339.0 404.0 L1340.0 399.2 L1341.0 394.3 L1342.0 389.5 L1343.0 384.6 L1344.0 379.8 L1345.0 374.9 L1346.0 370.0 L1347.0 365.1 L1348.0 360.3 L1349.0 355.4 L1350.0 350.5 L1351.0 345.7 L1352.0 340.9 L1353.0 336.1 L1354.0 331.3 L1355.0 326.5 L1356.0 321.7 L1357.0 317.0 L1358.0 312.3 L1359.0 307.6 L1360.0 303.0 L1361.0 298.4 L1362.0 293.8 L1363.0 289.3 L1364.0 284.9 L1365.0 280.4 L1366.0 276.0 L1367.0 271.7 L1368.0 267.4 L1369.0 263.2 L1370.0 259.1 L1371.0 255.0 L1372.0 250.9 L1373.0 247.0 L1374.0 243.1 L1375.0 239.2 L1376.0 235.5 L1377.0 231.8 L1378.0 228.2 L1379.0 224.6 L1380.0 221.2 L1381.0 217.8 L1382.0 214.5 L1383.0 211.3 L1384.0 208.2 L1385.0 205.2 L1386.0 202.3 L1387.0 199.4 L1388.0 196.7 L1389.0 194.0 L1390.0 191.5 L1391.0 189.0 L1392.0 186.7 L1393.0 184.5 L1394.0 182.3 L1395.0 180.3 L1396.0 178.4 L1397.0 176.5 L1398.0 174.8 L1399.0 173.2 L1400.0 171.7 L1401.0 170.3 L1402.0 169.1 L1403.0 167.9 L1404.0 166.9 L1405.0 165.9 L1406.0 165.1 L1407.0 164.4 L1408.0 163.8 L1409.0 163.3 L1410.0 162.9 L1411.0 162.7 L1412.0 162.5 L1413.0 162.5 L1414.0 162.6 L1415.0 162.8 L1416.0 163.1 L1417.0 163.5 L1418.0 164.1 L1419.0 164.7 L1420.0 165.4 L1421.0 166.3 L1422.0 167.3 L1423.0 168.3 L1424.0 169.5 L1425.0 170.8 L1426.0 172.1 L1427.0 173.6 L1428.0 175.2 L1429.0 176.9 L1430.0 178.7 L1431.0 180.5 L1432.0 182.5 L1433.0 184.5 L1434.0 186.7 L1435.0 188.9 L1436.0 191.2 L1437.0 193.6 L1438.0 196.0 L1439.0 198.6 L1440.0 201.2 L1441.0 203.9 L1442.0 206.7 L1443.0 209.5 L1444.0 212.4 L1445.0 215.4 L1446.0 218.4 L1447.0 221.5 L1448.0 224.6 L1449.0 227.8 L1450.0 231.1 L1451.0 234.4 L1452.0 237.7 L1453.0 241.1 L1454.0 244.5 L1455.0 247.9 L1456.0 251.4 L1457.0 254.9 L1458.0 258.5 L1459.0 262.0 L1460.0 265.6 L1461.0 269.2 L1462.0 272.9 L1463.0 276.5 L1464.0 280.1 L1465.0 283.8 L1466.0 287.5 L1467.0 291.1 L1468.0 294.8 L1469.0 298.4 L1470.0 302.1 L1471.0 305.7 L1472.0 309.3 L1473.0 312.9 L1474.0 316.5 L1475.0 320.1 L1476.0 323.6 L1477.0 327.1 L1478.0 330.6 L1479.0 334.1 L1480.0 337.5 L1481.0 340.9 L1482.0 344.2 L1483.0 347.5 L1484.0 350.8 L1485.0 354.0 L1486.0 357.2 L1487.0 360.3 L1488.0 363.4 L1489.0 366.4 L1490.0 369.4 L1491.0 372.3 L1492.0 375.1 L1493.0 377.9 L1494.0 380.6 L1495.0 383.3 L1496.0 385.9 L1497.0 388.4 L1498.0 390.9 L1499.0 393.3 L1500.0 395.6 L1501.0 397.8 L1502.0 400.0 L1503.0 402.1 L1504.0 404.1 L1505.0 406.0 L1506.0 407.9 L1507.0 409.7 L1508.0 411.4 L1509.0 413.0 L1510.0 414.5 L1511.0 416.0 L1512.0 417.4 L1513.0 418.7 L1514.0 419.9 L1515.0 421.0 L1516.0 422.1 L1517.0 423.0 L1518.0 423.9 L1519.0 424.7 L1520.0 425.4 L1521.0 426.1 L1522.0 426.6 L1523.0 427.1 L1524.0 427.5 L1525.0 427.8 L1526.0 428.0 L1527.0 428.1 L1528.0 428.2 L1529.0 428.2 L1530.0 428.1 L1531.0 427.9 L1532.0 427.6 L1533.0 427.3 L1534.0 426.9 L1535.0 426.4 L1536.0 425.9 L1537.0 425.2 L1538.0 424.5 L1539.0 423.8 L1540.0 422.9 L1541.0 422.0 L1542.0 421.0 L1543.0 420.0 L1544.0 418.9 L1545.0 417.7 L1546.0 416.5 L1547.0 415.2 L1548.0 413.8 L1549.0 412.4 L1550.0 410.9 L1551.0 409.4 L1552.0 407.8 L1553.0 406.2 L1554.0 404.5 L1555.0 402.8 L1556.0 401.0 L1557.0 399.2 L1558.0 397.3 L1559.0 395.4 L1560.0 393.5 L1561.0 391.5 L1562.0 389.5 L1563.0 387.4 L1564.0 385.3 L1565.0 383.2 L1566.0 381.1 L1567.0 378.9 L1568.0 376.7 L1569.0 374.5 L1570.0 372.3 L1571.0 370.0 L1572.0 367.7 L1573.0 365.4 L1574.0 363.1 L1575.0 360.8 L1576.0 358.5 L1577.0 356.1 L1578.0 353.8 L1579.0 351.4 L1580.0 349.1 L1581.0 346.7 L1582.0 344.4 L1583.0 342.0 L1584.0 339.7 L1585.0 337.3 L1586.0 335.0 L1587.0 332.6 L1588.0 330.3 L1589.0 328.0 L1590.0 325.7 L1591.0 323.4 L1592.0 321.2 L1593.0 318.9 L1594.0 316.7 L1595.0 314.5 L1596.0 312.3 L1597.0 310.2 L1598.0 308.1 L1599.0 306.0 L1600.0 303.9 L1601.0 301.8 L1602.0 299.8 L1603.0 297.9 L1604.0 295.9 L1605.0 294.0 L1606.0 292.1 L1607.0 290.3 L1608.0 288.5 L1609.0 286.7 L1610.0 285.0 L1611.0 283.3 L1612.0 281.7 L1613.0 280.1 L1614.0 278.6 L1615.0 277.1 L1616.0 275.6 L1617.0 274.2 L1618.0 272.8 L1619.0 271.5 L1620.0 270.3 L1621.0 269.1 L1622.0 267.9 L1623.0 266.8 L1624.0 265.7 L1625.0 264.7 L1626.0 263.8 L1627.0 262.9 L1628.0 262.0 L1629.0 261.2 L1630.0 260.5 L1631.0 259.8 L1632.0 259.2 L1633.0 258.6 L1634.0 258.1 L1635.0 257.6 L1636.0 257.2 L1637.0 256.8 L1638.0 256.5 L1639.0 256.3 L1640.0 256.1 L1641.0 256.0 L1642.0 255.9 L1643.0 255.9 L1644.0 255.9 L1645.0 256.0 L1646.0 256.2 L1647.0 256.3 L1648.0 256.6 L1649.0 256.9 L1650.0 257.3 L1651.0 257.7 L1652.0 258.1 L1653.0 258.7 L1654.0 259.2 L1655.0 259.9 L1656.0 260.5 L1657.0 261.3 L1658.0 262.0 L1659.0 262.9 L1660.0 263.7 L1661.0 264.7 L1662.0 265.6 L1663.0 266.7 L1664.0 267.7 L1665.0 268.8 L1666.0 270.0 L1667.0 271.2 L1668.0 272.5 L1669.0 273.8 L1670.0 275.1 L1671.0 276.5 L1672.0 277.9 L1673.0 279.4 L1674.0 280.9 L1675.0 282.4 L1676.0 284.0 L1677.0 285.6 L1678.0 287.2 L1679.0 288.9 L1680.0 290.7 L1681.0 292.4 L1682.0 294.2 L1683.0 296.0 L1684.0 297.9 L1685.0 299.8 L1686.0 301.7 L1687.0 303.7 L1688.0 305.6 L1689.0 307.6 L1690.0 309.7 L1691.0 311.7 L1692.0 313.8 L1693.0 315.9 L1694.0 318.1 L1695.0 320.2 L1696.0 322.4 L1697.0 324.6 L1698.0 326.8 L1699.0 329.1 L1700.0 331.3 L1701.0 333.6 L1702.0 335.9 L1703.0 338.2 L1704.0 340.5 L1705.0 342.8 L1706.0 345.2 L1707.0 347.5 L1708.0 349.9 L1709.0 352.3 L1710.0 354.7 L1711.0 357.1 L1712.0 359.5 L1713.0 361.9 L1714.0 364.4 L1715.0 366.8 L1716.0 369.3 L1717.0 371.7 L1718.0 374.2 L1719.0 376.6 L1720.0 379.1 L1721.0 381.5 L1722.0 384.0 L1723.0 386.5 L1724.0 388.9 L1725.0 391.4 L1726.0 393.8 L1727.0 396.3 L1728.0 398.8 L1729.0 401.2 L1730.0 403.7 L1731.0 406.1 L1732.0 408.6 L1733.0 411.0 L1734.0 413.4 L1735.0 415.9 L1736.0 418.3 L1737.0 420.7 L1738.0 423.1 L1739.0 425.5 L1740.0 427.9 L1741.0 430.3 L1742.0 432.7 L1743.0 435.0 L1744.0 437.4 L1745.0 439.7 L1746.0 442.0 L1747.0 444.4 L1748.0 446.7 L1749.0 449.0 L1750.0 451.2 L1751.0 453.5 L1752.0 455.8 L1753.0 458.0 L1754.0 460.2 L1755.0 462.5 L1756.0 464.7 L1757.0 466.9 L1758.0 469.0 L1759.0 471.2 L1760.0 473.3 L1761.0 475.4 L1762.0 477.6 L1763.0 479.6 L1764.0 481.7 L1765.0 483.8 L1766.0 485.8 L1767.0 487.9 L1768.0 489.9 L1769.0 491.9 L1770.0 493.8 L1771.0 495.8 L1772.0 497.7 L1773.0 499.7 L1774.0 501.6 L1775.0 503.5 L1776.0 505.3 L1777.0 507.2 L1778.0 509.0 L1779.0 510.8 L1780.0 512.6 L1781.0 514.4 L1782.0 516.2 L1783.0 517.9 L1784.0 519.6 L1785.0 521.3 L1786.0 523.0 L1787.0 524.7 L1788.0 526.3 L1789.0 528.0 L1790.0 529.6 L1791.0 531.2 L1792.0 532.8 L1793.0 534.3 L1794.0 535.9 L1795.0 537.4 L1796.0 538.9 L1797.0 540.4 L1798.0 541.9 L1799.0 543.3 L1800.0 544.7 L1801.0 546.2 L1802.0 547.5 L1803.0 548.9 L1804.0 550.3 L1805.0 551.6 L1806.0 553.0 L1807.0 554.3 L1808.0 555.6 L1809.0 556.8 L1810.0 558.1 L1811.0 559.3 L1812.0 560.6 L1813.0 561.8 L1814.0 562.9 L1815.0 564.1 L1816.0 565.3 L1817.0 566.4 L1818.0 567.5 L1819.0 568.7 L1820.0 569.7 L1821.0 570.8 L1822.0 571.9 L1823.0 572.9 L1824.0 574.0 L1825.0 575.0 L1826.0 576.0 L1827.0 577.0 L1828.0 577.9 L1829.0 578.9 L1830.0 579.8 L1831.0 580.7 L1832.0 581.7 L1833.0 582.6 L1834.0 583.4 L1835.0 584.3 L1836.0 585.2 L1837.0 586.0 L1838.0 586.8 L1839.0 587.6 L1840.0 588.4 L1841.0 589.2 L1842.0 590.0 L1843.0 590.8 L1844.0 591.5 L1845.0 592.3 L1846.0 593.0 L1847.0 593.7 L1848.0 594.4 L1849.0 595.1 L1850.0 595.8 L1851.0 596.4 L1852.0 597.1 L1853.0 597.7 L1854.0 598.4 L1855.0 599.0 L1856.0 599.6 L1857.0 600.2 L1858.0 600.8 L1859.0 601.4 L1860.0 602.0 L1861.0 602.5 L1862.0 603.1 L1863.0 603.6 L1864.0 604.1 L1865.0 604.7 L1866.0 605.2 L1867.0 605.7 L1868.0 606.2 L1869.0 606.7 L1870.0 607.1 L1871.0 607.6 L1872.0 608.1 L1873.0 608.5 L1874.0 608.9 L1875.0 609.4 L1876.0 609.8 L1877.0 610.2 L1878.0 610.6 L1879.0 611.0 L1880.0 611.4 L1881.0 611.8 L1882.0 612.2 L1883.0 612.6 L1884.0 612.9 L1885.0 613.3 L1886.0 613.6 L1887.0 614.0 L1888.0 614.3 L1889.0 614.7 L1890.0 615.0 L1891.0 615.3 L1892.0 615.6 L1893.0 615.9 L1894.0 616.2 L1895.0 616.5 L1896.0 616.8 L1897.0 617.1 L1898.0 617.4 L1899.0 617.6 L1900.0 617.9 L1901.0 618.2 L1902.0 618.4 L1903.0 618.7 L1904.0 618.9 L1905.0 619.1 L1906.0 619.4 L1907.0 619.6 L1908.0 619.8 L1909.0 620.1 L1910.0 620.3 L1911.0 620.5 L1912.0 620.7 L1913.0 620.9 L1914.0 621.1 L1915.0 621.3 L1916.0 621.5 L1917.0 621.7 L1918.0 621.8 L1919.0 622.0 L1920.0 622.2 L1921.0 622.4 L1922.0 622.5 L1923.0 622.7 L1924.0 622.9 L1925.0 623.0 L1926.0 623.2 L1927.0 623.3 L1928.0 623.5 L1929.0 623.6 L1930.0 623.8 L1931.0 623.9 L1932.0 624.0 L1933.0 624.2 L1934.0 624.3 L1935.0 624.4 L1936.0 624.6 L1937.0 624.7 L1938.0 624.8 L1939.0 624.9 L1940.0 625.0 L1941.0 625.1 L1942.0 625.2 L1943.0 625.3 L1944.0 625.5 L1945.0 625.6 L1946.0 625.7 L1947.0 625.8 L1948.0 625.8 L1949.0 625.9 L1950.0 626.0 L1951.0 626.1 L1952.0 626.2 L1953.0 626.3 L1954.0 626.4 L1955.0 626.5 L1956.0 626.5 L1957.0 626.6 L1958.0 626.7 L1959.0 626.8 L1960.0 626.8 L1961.0 626.9 L1962.0 627.0 L1963.0 627.0 L1964.0 627.1 L1965.0 627.2 L1966.0 627.2 L1967.0 627.3 L1968.0 627.4 L1969.0 627.4 L1970.0 627.5 L1971.0 627.5 L1972.0 627.6 L1973.0 627.6 L1974.0 627.7 L1975.0 627.7 L1976.0 627.8" stroke="#2AA35E"/>
<path d="M1230.0 628.8 L1231.0 628.7 L1232.0 628.5 L1233.0 628.4 L1234.0 628.2 L1235.0 628.1 L1236.0 627.9 L1237.0 627.7 L1238.0 627.5 L1239.0 627.3 L1240.0 627.0 L1241.0 626.8 L1242.0 626.5 L1243.0 626.2 L1244.0 625.9 L1245.0 625.5 L1246.0 625.1 L1247.0 624.7 L1248.0 624.3 L1249.0 623.8 L1250.0 623.3 L1251.0 622.8 L1252.0 622.3 L1253.0 621.7 L1254.0 621.0 L1255.0 620.4 L1256.0 619.7 L1257.0 618.9 L1258.0 618.1 L1259.0 617.3 L1260.0 616.4 L1261.0 615.5 L1262.0 614.5 L1263.0 613.5 L1264.0 612.4 L1265.0 611.3 L1266.0 610.1 L1267.0 608.9 L1268.0 607.6 L1269.0 606.3 L1270.0 604.8 L1271.0 603.4 L1272.0 601.9 L1273.0 600.3 L1274.0 598.6 L1275.0 596.9 L1276.0 595.2 L1277.0 593.3 L1278.0 591.4 L1279.0 589.5 L1280.0 587.4 L1281.0 585.3 L1282.0 583.2 L1283.0 580.9 L1284.0 578.6 L1285.0 576.3 L1286.0 573.8 L1287.0 571.3 L1288.0 568.7 L1289.0 566.1 L1290.0 563.3 L1291.0 560.6 L1292.0 557.7 L1293.0 554.8 L1294.0 551.8 L1295.0 548.7 L1296.0 545.6 L1297.0 542.3 L1298.0 539.1 L1299.0 535.7 L1300.0 532.3 L1301.0 528.8 L1302.0 525.3 L1303.0 521.7 L1304.0 518.0 L1305.0 514.3 L1306.0 510.5 L1307.0 506.6 L1308.0 502.7 L1309.0 498.7 L1310.0 494.7 L1311.0 490.6 L1312.0 486.5 L1313.0 482.3 L1314.0 478.0 L1315.0 473.7 L1316.0 469.4 L1317.0 465.0 L1318.0 460.5 L1319.0 456.0 L1320.0 451.5 L1321.0 446.9 L1322.0 442.3 L1323.0 437.7 L1324.0 433.0 L1325.0 428.3 L1326.0 423.5 L1327.0 418.8 L1328.0 414.0 L1329.0 409.1 L1330.0 404.3 L1331.0 399.4 L1332.0 394.5 L1333.0 389.6 L1334.0 384.7 L1335.0 379.8 L1336.0 374.9 L1337.0 369.9 L1338.0 365.0 L1339.0 360.0 L1340.0 355.1 L1341.0 350.1 L1342.0 345.2 L1343.0 340.2 L1344.0 335.3 L1345.0 330.4 L1346.0 325.5 L1347.0 320.6 L1348.0 315.7 L1349.0 310.9 L1350.0 306.1 L1351.0 301.3 L1352.0 296.5 L1353.0 291.7 L1354.0 287.0 L1355.0 282.3 L1356.0 277.6 L1357.0 273.0 L1358.0 268.4 L1359.0 263.9 L1360.0 259.4 L1361.0 254.9 L1362.0 250.5 L1363.0 246.1 L1364.0 241.7 L1365.0 237.5 L1366.0 233.2 L1367.0 229.0 L1368.0 224.9 L1369.0 220.8 L1370.0 216.8 L1371.0 212.8 L1372.0 208.9 L1373.0 205.0 L1374.0 201.2 L1375.0 197.5 L1376.0 193.8 L1377.0 190.2 L1378.0 186.6 L1379.0 183.1 L1380.0 179.7 L1381.0 176.4 L1382.0 173.1 L1383.0 169.9 L1384.0 166.7 L1385.0 163.7 L1386.0 160.7 L1387.0 157.7 L1388.0 154.9 L1389.0 152.1 L1390.0 149.4 L1391.0 146.8 L1392.0 144.3 L1393.0 141.8 L1394.0 139.5 L1395.0 137.2 L1396.0 135.0 L1397.0 132.8 L1398.0 130.8 L1399.0 128.8 L1400.0 127.0 L1401.0 125.2 L1402.0 123.5 L1403.0 121.9 L1404.0 120.4 L1405.0 119.0 L1406.0 117.7 L1407.0 116.5 L1408.0 115.3 L1409.0 114.3 L1410.0 113.4 L1411.0 112.5 L1412.0 111.8 L1413.0 111.1 L1414.0 110.6 L1415.0 110.1 L1416.0 109.8 L1417.0 109.5 L1418.0 109.4 L1419.0 109.3 L1420.0 109.4 L1421.0 109.5 L1422.0 109.8 L1423.0 110.2 L1424.0 110.6 L1425.0 111.2 L1426.0 111.8 L1427.0 112.6 L1428.0 113.5 L1429.0 114.4 L1430.0 115.5 L1431.0 116.7 L1432.0 117.9 L1433.0 119.3 L1434.0 120.8 L1435.0 122.3 L1436.0 124.0 L1437.0 125.8 L1438.0 127.6 L1439.0 129.5 L1440.0 131.6 L1441.0 133.7 L1442.0 135.9 L1443.0 138.2 L1444.0 140.6 L1445.0 143.1 L1446.0 145.7 L1447.0 148.3 L1448.0 151.0 L1449.0 153.9 L1450.0 156.7 L1451.0 159.7 L1452.0 162.7 L1453.0 165.8 L1454.0 169.0 L1455.0 172.2 L1456.0 175.5 L1457.0 178.9 L1458.0 182.3 L1459.0 185.8 L1460.0 189.3 L1461.0 192.9 L1462.0 196.6 L1463.0 200.3 L1464.0 204.0 L1465.0 207.8 L1466.0 211.6 L1467.0 215.4 L1468.0 219.3 L1469.0 223.2 L1470.0 227.2 L1471.0 231.1 L1472.0 235.1 L1473.0 239.1 L1474.0 243.1 L1475.0 247.2 L1476.0 251.2 L1477.0 255.3 L1478.0 259.4 L1479.0 263.4 L1480.0 267.5 L1481.0 271.6 L1482.0 275.6 L1483.0 279.7 L1484.0 283.7 L1485.0 287.8 L1486.0 291.8 L1487.0 295.8 L1488.0 299.7 L1489.0 303.7 L1490.0 307.6 L1491.0 311.5 L1492.0 315.4 L1493.0 319.2 L1494.0 323.0 L1495.0 326.8 L1496.0 330.5 L1497.0 334.2 L1498.0 337.8 L1499.0 341.4 L1500.0 344.9 L1501.0 348.4 L1502.0 351.8 L1503.0 355.2 L1504.0 358.5 L1505.0 361.8 L1506.0 365.0 L1507.0 368.1 L1508.0 371.2 L1509.0 374.2 L1510.0 377.1 L1511.0 380.0 L1512.0 382.8 L1513.0 385.6 L1514.0 388.2 L1515.0 390.8 L1516.0 393.3 L1517.0 395.8 L1518.0 398.1 L1519.0 400.4 L1520.0 402.7 L1521.0 404.8 L1522.0 406.8 L1523.0 408.8 L1524.0 410.7 L1525.0 412.5 L1526.0 414.3 L1527.0 415.9 L1528.0 417.5 L1529.0 419.0 L1530.0 420.4 L1531.0 421.7 L1532.0 422.9 L1533.0 424.1 L1534.0 425.2 L1535.0 426.2 L1536.0 427.1 L1537.0 427.9 L1538.0 428.7 L1539.0 429.3 L1540.0 429.9 L1541.0 430.4 L1542.0 430.8 L1543.0 431.2 L1544.0 431.4 L1545.0 431.6 L1546.0 431.7 L1547.0 431.8 L1548.0 431.7 L1549.0 431.6 L1550.0 431.4 L1551.0 431.2 L1552.0 430.8 L1553.0 430.4 L1554.0 429.9 L1555.0 429.4 L1556.0 428.8 L1557.0 428.1 L1558.0 427.3 L1559.0 426.5 L1560.0 425.6 L1561.0 424.7 L1562.0 423.7 L1563.0 422.6 L1564.0 421.5 L1565.0 420.3 L1566.0 419.0 L1567.0 417.8 L1568.0 416.4 L1569.0 415.0 L1570.0 413.6 L1571.0 412.1 L1572.0 410.5 L1573.0 408.9 L1574.0 407.3 L1575.0 405.6 L1576.0 403.9 L1577.0 402.2 L1578.0 400.4 L1579.0 398.5 L1580.0 396.7 L1581.0 394.8 L1582.0 392.9 L1583.0 390.9 L1584.0 388.9 L1585.0 386.9 L1586.0 384.9 L1587.0 382.8 L1588.0 380.7 L1589.0 378.6 L1590.0 376.5 L1591.0 374.4 L1592.0 372.2 L1593.0 370.1 L1594.0 367.9 L1595.0 365.7 L1596.0 363.5 L1597.0 361.4 L1598.0 359.1 L1599.0 356.9 L1600.0 354.7 L1601.0 352.5 L1602.0 350.3 L1603.0 348.1 L1604.0 345.9 L1605.0 343.7 L1606.0 341.5 L1607.0 339.4 L1608.0 337.2 L1609.0 335.1 L1610.0 332.9 L1611.0 330.8 L1612.0 328.7 L1613.0 326.6 L1614.0 324.5 L1615.0 322.4 L1616.0 320.4 L1617.0 318.4 L1618.0 316.4 L1619.0 314.4 L1620.0 312.5 L1621.0 310.6 L1622.0 308.7 L1623.0 306.8 L1624.0 305.0 L1625.0 303.2 L1626.0 301.5 L1627.0 299.7 L1628.0 298.0 L1629.0 296.4 L1630.0 294.7 L1631.0 293.2 L1632.0 291.6 L1633.0 290.1 L1634.0 288.6 L1635.0 287.2 L1636.0 285.8 L1637.0 284.4 L1638.0 283.1 L1639.0 281.9 L1640.0 280.7 L1641.0 279.5 L1642.0 278.3 L1643.0 277.3 L1644.0 276.2 L1645.0 275.2 L1646.0 274.3 L1647.0 273.4 L1648.0 272.5 L1649.0 271.7 L1650.0 270.9 L1651.0 270.2 L1652.0 269.5 L1653.0 268.9 L1654.0 268.4 L1655.0 267.8 L1656.0 267.4 L1657.0 266.9 L1658.0 266.6 L1659.0 266.3 L1660.0 266.0 L1661.0 265.8 L1662.0 265.6 L1663.0 265.5 L1664.0 265.4 L1665.0 265.3 L1666.0 265.4 L1667.0 265.4 L1668.0 265.6 L1669.0 265.7 L1670.0 265.9 L1671.0 266.2 L1672.0 266.5 L1673.0 266.9 L1674.0 267.3 L1675.0 267.7 L1676.0 268.2 L1677.0 268.8 L1678.0 269.3 L1679.0 270.0 L1680.0 270.7 L1681.0 271.4 L1682.0 272.1 L1683.0 273.0 L1684.0 273.8 L1685.0 274.7 L1686.0 275.6 L1687.0 276.6 L1688.0 277.6 L1689.0 278.7 L1690.0 279.8 L1691.0 280.9 L1692.0 282.1 L1693.0 283.3 L1694.0 284.6 L1695.0 285.9 L1696.0 287.2 L1697.0 288.6 L1698.0 290.0 L1699.0 291.4 L1700.0 292.9 L1701.0 294.4 L1702.0 295.9 L1703.0 297.5 L1704.0 299.0 L1705.0 300.7 L1706.0 302.3 L1707.0 304.0 L1708.0 305.7 L1709.0 307.5 L1710.0 309.2 L1711.0 311.0 L1712.0 312.8 L1713.0 314.7 L1714.0 316.5 L1715.0 318.4 L1716.0 320.3 L1717.0 322.2 L1718.0 324.2 L1719.0 326.2 L1720.0 328.2 L1721.0 330.2 L1722.0 332.2 L1723.0 334.3 L1724.0 336.3 L1725.0 338.4 L1726.0 340.5 L1727.0 342.6 L1728.0 344.7 L1729.0 346.9 L1730.0 349.0 L1731.0 351.2 L1732.0 353.3 L1733.0 355.5 L1734.0 357.7 L1735.0 359.9 L1736.0 362.1 L1737.0 364.4 L1738.0 366.6 L1739.0 368.8 L1740.0 371.1 L1741.0 373.3 L1742.0 375.6 L1743.0 377.8 L1744.0 380.1 L1745.0 382.3 L1746.0 384.6 L1747.0 386.9 L1748.0 389.1 L1749.0 391.4 L1750.0 393.7 L1751.0 395.9 L1752.0 398.2 L1753.0 400.5 L1754.0 402.7 L1755.0 405.0 L1756.0 407.3 L1757.0 409.5 L1758.0 411.8 L1759.0 414.0 L1760.0 416.3 L1761.0 418.5 L1762.0 420.8 L1763.0 423.0 L1764.0 425.2 L1765.0 427.4 L1766.0 429.6 L1767.0 431.8 L1768.0 434.0 L1769.0 436.2 L1770.0 438.4 L1771.0 440.6 L1772.0 442.7 L1773.0 444.9 L1774.0 447.0 L1775.0 449.2 L1776.0 451.3 L1777.0 453.4 L1778.0 455.5 L1779.0 457.6 L1780.0 459.7 L1781.0 461.7 L1782.0 463.8 L1783.0 465.8 L1784.0 467.9 L1785.0 469.9 L1786.0 471.9 L1787.0 473.9 L1788.0 475.8 L1789.0 477.8 L1790.0 479.8 L1791.0 481.7 L1792.0 483.6 L1793.0 485.5 L1794.0 487.4 L1795.0 489.3 L1796.0 491.2 L1797.0 493.0 L1798.0 494.8 L1799.0 496.7 L1800.0 498.5 L1801.0 500.2 L1802.0 502.0 L1803.0 503.8 L1804.0 505.5 L1805.0 507.2 L1806.0 509.0 L1807.0 510.7 L1808.0 512.3 L1809.0 514.0 L1810.0 515.6 L1811.0 517.3 L1812.0 518.9 L1813.0 520.5 L1814.0 522.1 L1815.0 523.7 L1816.0 525.2 L1817.0 526.7 L1818.0 528.3 L1819.0 529.8 L1820.0 531.3 L1821.0 532.7 L1822.0 534.2 L1823.0 535.6 L1824.0 537.1 L1825.0 538.5 L1826.0 539.9 L1827.0 541.2 L1828.0 542.6 L1829.0 543.9 L1830.0 545.3 L1831.0 546.6 L1832.0 547.9 L1833.0 549.2 L1834.0 550.4 L1835.0 551.7 L1836.0 552.9 L1837.0 554.2 L1838.0 555.4 L1839.0 556.6 L1840.0 557.7 L1841.0 558.9 L1842.0 560.1 L1843.0 561.2 L1844.0 562.3 L1845.0 563.4 L1846.0 564.5 L1847.0 565.6 L1848.0 566.6 L1849.0 567.7 L1850.0 568.7 L1851.0 569.7 L1852.0 570.8 L1853.0 571.7 L1854.0 572.7 L1855.0 573.7 L1856.0 574.6 L1857.0 575.6 L1858.0 576.5 L1859.0 577.4 L1860.0 578.3 L1861.0 579.2 L1862.0 580.1 L1863.0 580.9 L1864.0 581.8 L1865.0 582.6 L1866.0 583.4 L1867.0 584.3 L1868.0 585.1 L1869.0 585.8 L1870.0 586.6 L1871.0 587.4 L1872.0 588.1 L1873.0 588.9 L1874.0 589.6 L1875.0 590.3 L1876.0 591.0 L1877.0 591.7 L1878.0 592.4 L1879.0 593.1 L1880.0 593.8 L1881.0 594.4 L1882.0 595.1 L1883.0 595.7 L1884.0 596.3 L1885.0 596.9 L1886.0 597.6 L1887.0 598.1 L1888.0 598.7 L1889.0 599.3 L1890.0 599.9 L1891.0 600.4 L1892.0 601.0 L1893.0 601.5 L1894.0 602.1 L1895.0 602.6 L1896.0 603.1 L1897.0 603.6 L1898.0 604.1 L1899.0 604.6 L1900.0 605.1 L1901.0 605.5 L1902.0 606.0 L1903.0 606.4 L1904.0 606.9 L1905.0 607.3 L1906.0 607.8 L1907.0 608.2 L1908.0 608.6 L1909.0 609.0 L1910.0 609.4 L1911.0 609.8 L1912.0 610.2 L1913.0 610.6 L1914.0 611.0 L1915.0 611.3 L1916.0 611.7 L1917.0 612.1 L1918.0 612.4 L1919.0 612.7 L1920.0 613.1 L1921.0 613.4 L1922.0 613.7 L1923.0 614.1 L1924.0 614.4 L1925.0 614.7 L1926.0 615.0 L1927.0 615.3 L1928.0 615.6 L1929.0 615.9 L1930.0 616.1 L1931.0 616.4 L1932.0 616.7 L1933.0 617.0 L1934.0 617.2 L1935.0 617.5 L1936.0 617.7 L1937.0 618.0 L1938.0 618.2 L1939.0 618.4 L1940.0 618.7 L1941.0 618.9 L1942.0 619.1 L1943.0 619.3 L1944.0 619.6 L1945.0 619.8 L1946.0 620.0 L1947.0 620.2 L1948.0 620.4 L1949.0 620.6 L1950.0 620.8 L1951.0 621.0 L1952.0 621.1 L1953.0 621.3 L1954.0 621.5 L1955.0 621.7 L1956.0 621.8 L1957.0 622.0 L1958.0 622.2 L1959.0 622.3 L1960.0 622.5 L1961.0 622.6 L1962.0 622.8 L1963.0 622.9 L1964.0 623.1 L1965.0 623.2 L1966.0 623.4 L1967.0 623.5 L1968.0 623.6 L1969.0 623.8 L1970.0 623.9 L1971.0 624.0 L1972.0 624.2 L1973.0 624.3 L1974.0 624.4 L1975.0 624.5 L1976.0 624.6" stroke="#A765DD"/>
</g>
<g stroke="#222" fill="none">
<line x1="1215.5" y1="30.8" x2="1979.5" y2="30.8" stroke-width="3"/>
<line x1="1228.5" y1="29.3" x2="1228.5" y2="638.0" stroke-width="3"/>
<line x1="1978.0" y1="29.3" x2="1978.0" y2="636.0" stroke-width="3"/>
<line x1="1228.5" y1="634.0" x2="1979.5" y2="634.0" stroke-width="4.5" stroke="#555"/>
<line x1="1215.5" y1="629.8" x2="1228.5" y2="629.8" stroke-width="2.5"/>
<line x1="1221.5" y1="579.9" x2="1228.5" y2="579.9" stroke-width="2.5"/>
<line x1="1215.5" y1="530.0" x2="1228.5" y2="530.0" stroke-width="2.5"/>
<line x1="1221.5" y1="480.1" x2="1228.5" y2="480.1" stroke-width="2.5"/>
<line x1="1215.5" y1="430.1" x2="1228.5" y2="430.1" stroke-width="2.5"/>
<line x1="1221.5" y1="380.2" x2="1228.5" y2="380.2" stroke-width="2.5"/>
<line x1="1215.5" y1="330.3" x2="1228.5" y2="330.3" stroke-width="2.5"/>
<line x1="1221.5" y1="280.4" x2="1228.5" y2="280.4" stroke-width="2.5"/>
<line x1="1215.5" y1="230.5" x2="1228.5" y2="230.5" stroke-width="2.5"/>
<line x1="1221.5" y1="180.6" x2="1228.5" y2="180.6" stroke-width="2.5"/>
<line x1="1215.5" y1="130.6" x2="1228.5" y2="130.6" stroke-width="2.5"/>
<line x1="1221.5" y1="80.7" x2="1228.5" y2="80.7" stroke-width="2.5"/>
<line x1="1228.5" y1="634.0" x2="1228.5" y2="640.0" stroke-width="2.5"/>
<line x1="1335.6" y1="634.0" x2="1335.6" y2="646.0" stroke-width="2.5"/>
<line x1="1442.6" y1="634.0" x2="1442.6" y2="640.0" stroke-width="2.5"/>
<line x1="1549.7" y1="634.0" x2="1549.7" y2="646.0" stroke-width="2.5"/>
<line x1="1656.8" y1="634.0" x2="1656.8" y2="640.0" stroke-width="2.5"/>
<line x1="1763.8" y1="634.0" x2="1763.8" y2="646.0" stroke-width="2.5"/>
<line x1="1870.9" y1="634.0" x2="1870.9" y2="640.0" stroke-width="2.5"/>
<line x1="1978.0" y1="634.0" x2="1978.0" y2="646.0" stroke-width="2.5"/>
</g>
<g font-size="31.7" fill="#000">
<text x="1210.0" y="638.1" text-anchor="end">0</text>
<text x="1210.0" y="538.6" text-anchor="end">20000</text>
<text x="1210.0" y="439.1" text-anchor="end">40000</text>
<text x="1210.0" y="339.6" text-anchor="end">60000</text>
<text x="1210.0" y="240.1" text-anchor="end">80000</text>
<text x="1210.0" y="140.5" text-anchor="end">100000</text>
<text x="1210.0" y="41.0" text-anchor="end">120000</text>
<text x="1228.5" y="678.5" text-anchor="middle">350</text>
<text x="1335.6" y="678.5" text-anchor="middle">400</text>
<text x="1442.6" y="678.5" text-anchor="middle">450</text>
<text x="1549.7" y="678.5" text-anchor="middle">500</text>
<text x="1656.8" y="678.5" text-anchor="middle">550</text>
<text x="1763.8" y="678.5" text-anchor="middle">600</text>
<text x="1870.9" y="678.5" text-anchor="middle">650</text>
<text x="1978.0" y="678.5" text-anchor="middle">700</text>
</g>
<text x="1549.0" y="87.0" font-size="32.2" textLength="197" lengthAdjust="spacingAndGlyphs">In Acetonitrile</text>
<rect x="1770.0" y="52.5" width="192.0" height="200.5" fill="none" stroke="#333" stroke-width="3.5"/>
<line x1="1773.5" y1="75.0" x2="1848.5" y2="75.0" stroke="#333333" stroke-width="6"/>
<text x="1855.0" y="85.5" font-size="31.7">TAZD2</text>
<line x1="1773.5" y1="113.5" x2="1848.5" y2="113.5" stroke="#E82424" stroke-width="6"/>
<text x="1855.0" y="124.0" font-size="31.7">TAZD3</text>
<line x1="1773.5" y1="152.6" x2="1848.5" y2="152.6" stroke="#1763DA" stroke-width="6"/>
<text x="1855.0" y="163.1" font-size="31.7">TAZD4</text>
<line x1="1773.5" y1="191.7" x2="1848.5" y2="191.7" stroke="#2AA35E" stroke-width="6"/>
<text x="1855.0" y="202.2" font-size="31.7">TAZD5</text>
<line x1="1773.5" y1="231.1" x2="1848.5" y2="231.1" stroke="#A765DD" stroke-width="6"/>
<text x="1855.0" y="241.6" font-size="31.7">TAZD6</text>
<text x="1603.5" y="731.0" font-size="31.9" text-anchor="middle">Wavelength (<tspan font-style="italic">nm</tspan>)</text>
<text transform="translate(1080.5 317.0) rotate(-90)" font-size="31.6" text-anchor="middle">Molar absorption coefficient (ε)</text>
</g>
</svg></body></html>
